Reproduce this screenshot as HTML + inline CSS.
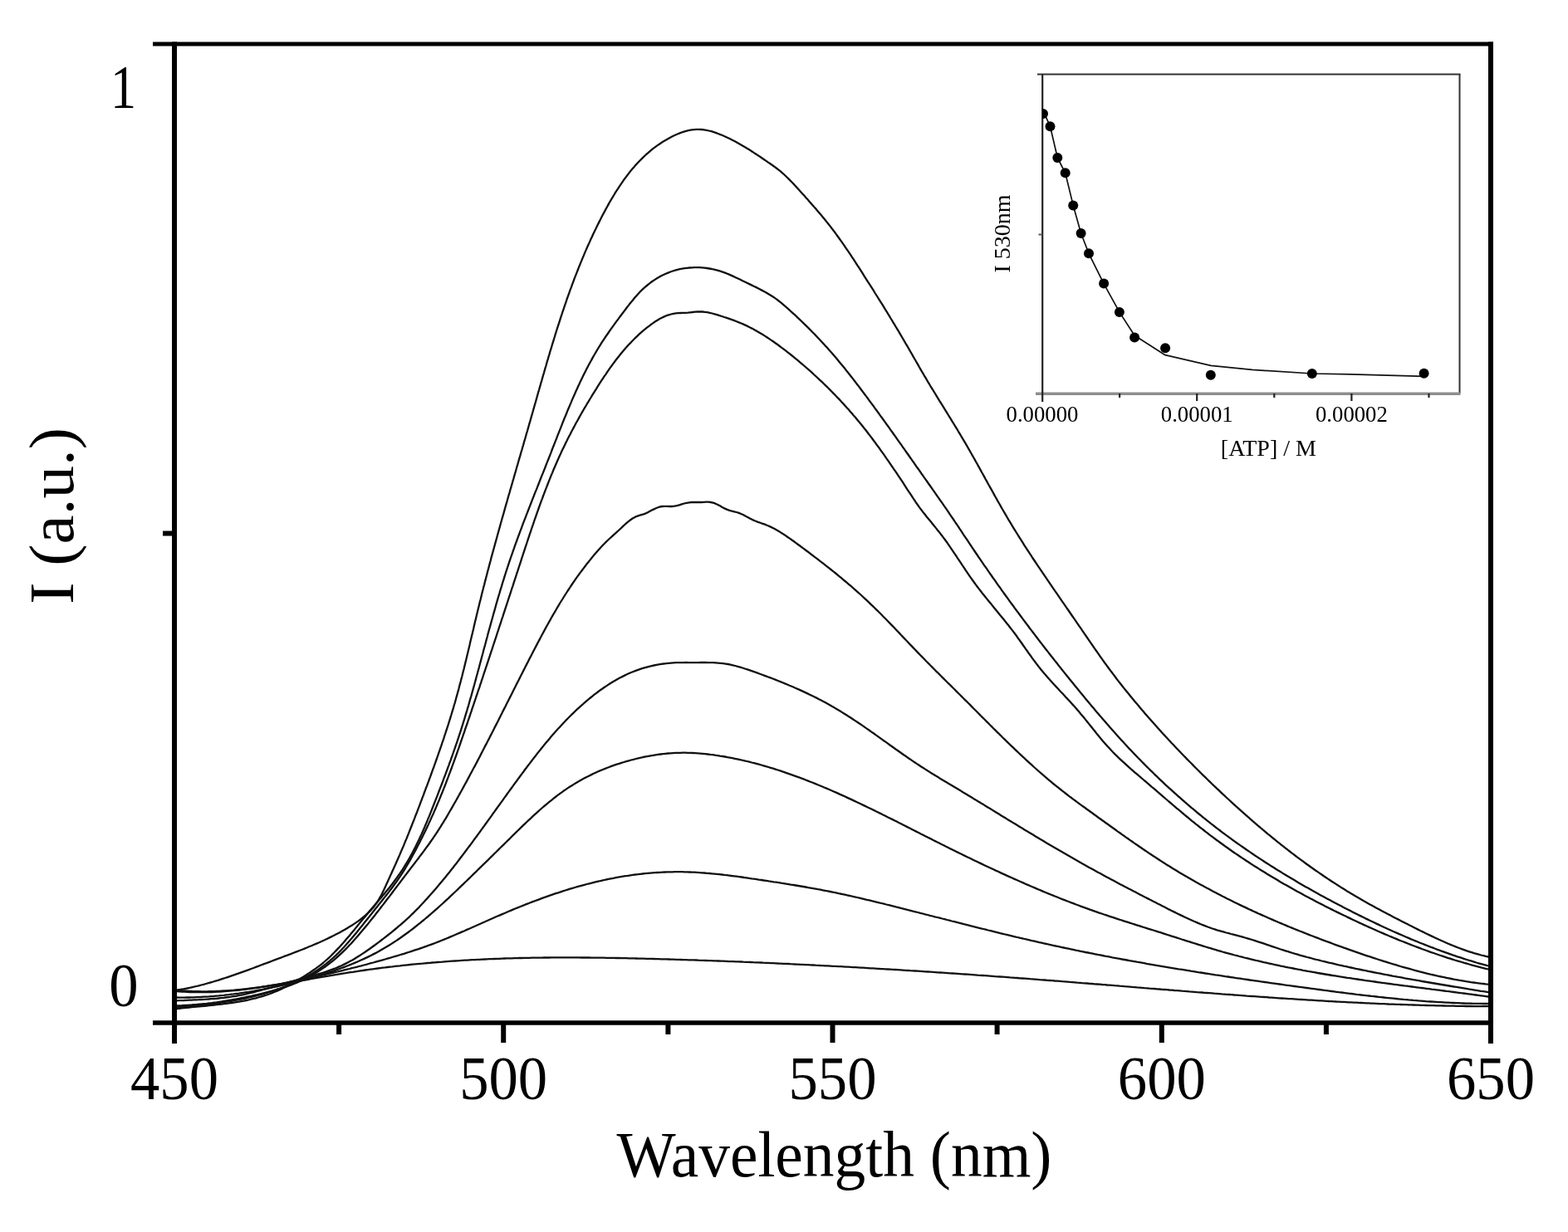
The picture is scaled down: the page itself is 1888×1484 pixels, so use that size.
<!DOCTYPE html>
<html><head><meta charset="utf-8"><title>Fluorescence spectra</title>
<style>
html,body{margin:0;padding:0;background:#fff;}
body{width:1888px;height:1484px;overflow:hidden;}
svg{display:block;}
text{font-family:"Liberation Serif","Times New Roman",serif;fill:#000;}
</style></head>
<body>
<svg width="1888" height="1484" viewBox="0 0 1888 1484">
<rect width="1888" height="1484" fill="#fff"/>
<g fill="none" stroke="#111" stroke-width="2.3" stroke-linejoin="round" stroke-linecap="round">
<path d="M210.0 1193.2L213.0 1192.7 215.9 1192.2 218.9 1191.7 221.8 1191.2 224.7 1190.6 227.7 1190.0 230.6 1189.3 233.5 1188.7 236.4 1188.0 239.3 1187.3 242.2 1186.5 245.1 1185.8 248.0 1185.0 250.9 1184.2 253.8 1183.3 256.7 1182.5 259.6 1181.6 262.5 1180.8 265.3 1179.9 268.2 1178.9 271.1 1178.0 273.9 1177.1 276.8 1176.1 279.6 1175.1 282.5 1174.2 285.3 1173.2 288.2 1172.2 291.0 1171.2 293.9 1170.1 296.7 1169.1 299.5 1168.1 302.3 1167.0 305.2 1166.0 308.0 1164.9 310.8 1163.9 313.6 1162.8 316.4 1161.7 319.3 1160.7 322.1 1159.6 324.9 1158.6 327.7 1157.5 330.5 1156.4 333.3 1155.4 336.1 1154.3 338.9 1153.3 341.7 1152.2 344.5 1151.2 347.3 1150.1 350.1 1149.1 352.8 1148.0 355.6 1146.9 358.4 1145.9 361.2 1144.8 364.0 1143.7 366.7 1142.6 369.5 1141.5 372.2 1140.3 375.0 1139.2 377.7 1138.0 380.5 1136.9 383.2 1135.7 386.0 1134.5 388.7 1133.2 391.4 1132.0 394.1 1130.7 396.8 1129.4 399.5 1128.1 402.2 1126.7 404.9 1125.3 407.6 1123.9 410.3 1122.5 412.9 1121.0 415.6 1119.5 418.2 1117.9 420.9 1116.3 423.5 1114.7 426.0 1113.1 428.6 1111.4 431.1 1109.6 433.5 1107.8 435.9 1106.0 438.2 1104.1 440.5 1102.2 442.7 1100.2 444.8 1098.1 446.8 1096.1 448.7 1093.9 450.6 1091.7 452.3 1089.3 454.0 1086.9 455.5 1084.5 457.0 1081.9 458.5 1079.3 459.9 1076.7 461.2 1074.0 462.5 1071.3 463.8 1068.6 465.0 1065.8 466.3 1063.1 467.5 1060.3 468.8 1057.5 470.0 1054.7 471.3 1052.0 472.5 1049.2 473.8 1046.4 475.0 1043.7 476.3 1040.9 477.5 1038.2 478.7 1035.4 480.0 1032.6 481.2 1029.9 482.3 1027.1 483.5 1024.4 484.7 1021.6 485.9 1018.9 487.0 1016.1 488.1 1013.3 489.3 1010.6 490.4 1007.8 491.5 1005.1 492.6 1002.3 493.7 999.5 494.8 996.8 495.9 994.0 497.0 991.2 498.1 988.5 499.2 985.7 500.2 982.9 501.3 980.2 502.4 977.4 503.4 974.6 504.5 971.8 505.6 969.0 506.6 966.2 507.7 963.4 508.7 960.6 509.8 957.8 510.8 955.0 511.9 952.2 512.9 949.4 514.0 946.6 515.0 943.8 516.1 941.0 517.1 938.2 518.2 935.3 519.2 932.5 520.2 929.7 521.2 926.8 522.3 924.0 523.3 921.2 524.3 918.3 525.3 915.5 526.3 912.6 527.3 909.8 528.3 906.9 529.3 904.1 530.3 901.2 531.3 898.4 532.2 895.5 533.2 892.6 534.2 889.8 535.1 886.9 536.1 884.0 537.0 881.2 537.9 878.3 538.9 875.4 539.8 872.6 540.7 869.7 541.6 866.8 542.5 863.9 543.4 861.0 544.2 858.2 545.1 855.3 546.0 852.4 546.8 849.5 547.7 846.6 548.5 843.7 549.3 840.8 550.1 837.9 550.9 835.0 551.7 832.1 552.5 829.2 553.2 826.3 554.0 823.4 554.8 820.5 555.5 817.6 556.3 814.7 557.0 811.8 557.7 808.9 558.5 806.0 559.2 803.1 559.9 800.2 560.6 797.3 561.3 794.4 562.0 791.5 562.7 788.6 563.4 785.7 564.1 782.8 564.8 779.8 565.5 776.9 566.1 774.0 566.8 771.1 567.5 768.2 568.2 765.3 568.9 762.4 569.6 759.5 570.3 756.6 570.9 753.7 571.6 750.7 572.3 747.8 573.0 744.9 573.7 742.0 574.4 739.1 575.1 736.2 575.8 733.3 576.5 730.4 577.2 727.5 577.9 724.6 578.7 721.7 579.4 718.8 580.1 715.8 580.8 712.9 581.6 710.0 582.3 707.1 583.1 704.2 583.8 701.3 584.6 698.4 585.3 695.5 586.1 692.6 586.8 689.7 587.6 686.8 588.4 683.9 589.1 681.0 589.9 678.1 590.7 675.2 591.4 672.3 592.2 669.4 593.0 666.5 593.8 663.6 594.6 660.7 595.4 657.8 596.2 654.9 597.0 652.0 597.8 649.1 598.6 646.2 599.4 643.3 600.2 640.4 601.0 637.5 601.8 634.6 602.6 631.7 603.4 628.8 604.2 626.0 605.0 623.1 605.9 620.2 606.7 617.3 607.5 614.4 608.3 611.5 609.1 608.6 610.0 605.7 610.8 602.8 611.6 599.9 612.4 597.0 613.3 594.1 614.1 591.2 614.9 588.3 615.8 585.4 616.6 582.6 617.4 579.7 618.3 576.8 619.1 573.9 619.9 571.0 620.8 568.1 621.6 565.2 622.4 562.3 623.3 559.4 624.1 556.5 624.9 553.6 625.8 550.7 626.6 547.9 627.4 545.0 628.3 542.1 629.1 539.2 630.0 536.3 630.8 533.4 631.6 530.5 632.5 527.6 633.3 524.7 634.1 521.8 635.0 519.0 635.8 516.1 636.6 513.2 637.4 510.3 638.3 507.4 639.1 504.5 639.9 501.6 640.8 498.7 641.6 495.8 642.4 492.9 643.2 490.1 644.0 487.2 644.9 484.3 645.7 481.4 646.5 478.5 647.3 475.6 648.1 472.7 649.0 469.8 649.8 466.9 650.6 464.1 651.4 461.2 652.3 458.3 653.1 455.4 653.9 452.5 654.8 449.6 655.6 446.8 656.4 443.9 657.3 441.0 658.1 438.1 658.9 435.2 659.8 432.4 660.6 429.5 661.5 426.6 662.3 423.7 663.2 420.9 664.1 418.0 664.9 415.1 665.8 412.3 666.7 409.4 667.6 406.5 668.4 403.7 669.3 400.8 670.2 398.0 671.1 395.1 672.0 392.3 673.0 389.4 673.9 386.6 674.8 383.7 675.7 380.9 676.7 378.0 677.6 375.2 678.6 372.3 679.5 369.5 680.5 366.7 681.5 363.8 682.4 361.0 683.4 358.2 684.4 355.4 685.4 352.6 686.4 349.7 687.5 346.9 688.5 344.1 689.5 341.3 690.6 338.5 691.6 335.7 692.7 332.9 693.8 330.1 694.9 327.3 696.0 324.5 697.1 321.7 698.2 319.0 699.3 316.2 700.5 313.4 701.6 310.6 702.8 307.9 703.9 305.1 705.1 302.4 706.3 299.6 707.5 296.8 708.8 294.1 710.0 291.4 711.2 288.6 712.5 285.9 713.8 283.1 715.0 280.4 716.3 277.7 717.7 275.0 719.0 272.3 720.3 269.6 721.7 266.9 723.0 264.2 724.4 261.5 725.8 258.8 727.2 256.1 728.7 253.4 730.1 250.7 731.6 248.1 733.0 245.4 734.5 242.8 736.1 240.2 737.6 237.6 739.2 235.0 740.7 232.4 742.3 229.8 744.0 227.3 745.6 224.8 747.3 222.3 749.0 219.8 750.7 217.3 752.5 214.9 754.3 212.5 756.1 210.1 757.9 207.8 759.8 205.4 761.7 203.1 763.6 200.9 765.6 198.6 767.6 196.5 769.7 194.3 771.7 192.2 773.8 190.1 776.0 188.0 778.1 186.0 780.4 184.1 782.6 182.1 784.9 180.2 787.2 178.4 789.6 176.6 792.0 174.9 794.5 173.2 797.0 171.5 799.5 169.9 802.1 168.4 804.7 166.9 807.4 165.4 810.1 164.0 812.9 162.7 815.7 161.5 818.5 160.4 821.3 159.3 824.2 158.4 827.1 157.6 830.0 156.9 833.0 156.4 835.9 156.1 838.9 155.9 841.8 155.8 844.8 156.0 847.7 156.3 850.7 156.8 853.6 157.5 856.6 158.2 859.5 159.1 862.4 160.1 865.2 161.2 868.1 162.3 870.9 163.5 873.6 164.7 876.4 166.0 879.1 167.3 881.8 168.7 884.5 170.1 887.1 171.5 889.7 172.9 892.3 174.4 894.9 175.9 897.5 177.5 900.0 179.0 902.6 180.6 905.1 182.2 907.6 183.9 910.1 185.5 912.6 187.1 915.1 188.8 917.6 190.5 920.1 192.2 922.6 193.9 925.0 195.6 927.5 197.3 930.0 199.0 932.4 200.7 934.8 202.5 937.2 204.3 939.5 206.2 941.7 208.1 943.9 210.0 946.0 212.0 948.1 214.0 950.2 216.1 952.3 218.2 954.3 220.3 956.3 222.4 958.3 224.6 960.3 226.7 962.3 228.9 964.3 231.2 966.3 233.4 968.3 235.6 970.3 237.9 972.3 240.1 974.3 242.4 976.3 244.7 978.3 247.0 980.3 249.3 982.4 251.6 984.3 253.9 986.3 256.3 988.3 258.6 990.3 261.0 992.2 263.3 994.2 265.7 996.1 268.1 998.0 270.5 999.9 272.9 1001.7 275.3 1003.6 277.7 1005.4 280.1 1007.2 282.6 1008.9 285.0 1010.7 287.5 1012.4 289.9 1014.2 292.4 1015.9 294.8 1017.6 297.3 1019.3 299.8 1020.9 302.2 1022.6 304.7 1024.3 307.2 1025.9 309.7 1027.6 312.2 1029.2 314.7 1030.8 317.2 1032.4 319.7 1034.1 322.2 1035.7 324.7 1037.3 327.2 1038.9 329.7 1040.5 332.3 1042.1 334.8 1043.7 337.3 1045.3 339.8 1047.0 342.3 1048.6 344.9 1050.2 347.4 1051.8 349.9 1053.3 352.5 1054.9 355.0 1056.5 357.5 1058.1 360.1 1059.7 362.6 1061.3 365.1 1062.9 367.7 1064.4 370.2 1066.0 372.8 1067.6 375.3 1069.1 377.9 1070.7 380.4 1072.2 383.0 1073.8 385.5 1075.3 388.1 1076.9 390.6 1078.4 393.2 1079.9 395.7 1081.5 398.3 1083.0 400.9 1084.5 403.4 1086.0 406.0 1087.5 408.5 1089.0 411.1 1090.5 413.7 1092.0 416.2 1093.5 418.8 1095.0 421.4 1096.5 424.0 1098.0 426.5 1099.4 429.1 1100.9 431.7 1102.4 434.3 1103.9 436.8 1105.4 439.4 1106.8 442.0 1108.3 444.6 1109.8 447.2 1111.3 449.7 1112.8 452.3 1114.4 454.9 1115.9 457.5 1117.4 460.1 1119.0 462.7 1120.5 465.3 1122.1 467.9 1123.7 470.4 1125.3 473.0 1126.9 475.6 1128.4 478.2 1130.0 480.8 1131.6 483.4 1133.3 486.0 1134.9 488.6 1136.5 491.2 1138.1 493.8 1139.7 496.4 1141.3 499.0 1142.9 501.6 1144.5 504.2 1146.1 506.8 1147.7 509.4 1149.3 512.0 1150.9 514.6 1152.5 517.2 1154.0 519.8 1155.6 522.4 1157.1 525.0 1158.7 527.6 1160.2 530.2 1161.8 532.8 1163.3 535.4 1164.8 538.0 1166.3 540.6 1167.8 543.2 1169.2 545.8 1170.7 548.4 1172.2 551.0 1173.7 553.6 1175.1 556.2 1176.6 558.8 1178.0 561.4 1179.5 564.0 1180.9 566.6 1182.3 569.2 1183.8 571.8 1185.2 574.4 1186.6 577.0 1188.1 579.6 1189.5 582.2 1190.9 584.8 1192.4 587.4 1193.8 589.9 1195.3 592.5 1196.7 595.1 1198.1 597.7 1199.6 600.3 1201.0 602.9 1202.5 605.5 1204.0 608.0 1205.4 610.6 1206.9 613.2 1208.4 615.8 1209.9 618.4 1211.4 620.9 1212.9 623.5 1214.4 626.1 1216.0 628.6 1217.5 631.2 1219.1 633.8 1220.6 636.3 1222.2 638.9 1223.8 641.5 1225.4 644.0 1227.0 646.6 1228.6 649.1 1230.2 651.7 1231.8 654.2 1233.4 656.8 1235.1 659.3 1236.7 661.8 1238.4 664.4 1240.0 666.9 1241.7 669.4 1243.3 672.0 1245.0 674.5 1246.7 677.0 1248.4 679.6 1250.1 682.1 1251.8 684.6 1253.5 687.1 1255.2 689.6 1256.9 692.2 1258.6 694.7 1260.3 697.2 1262.0 699.7 1263.7 702.2 1265.4 704.7 1267.1 707.2 1268.8 709.7 1270.5 712.2 1272.3 714.7 1274.0 717.2 1275.7 719.7 1277.4 722.1 1279.1 724.6 1280.9 727.1 1282.6 729.6 1284.3 732.1 1286.0 734.5 1287.7 737.0 1289.4 739.5 1291.1 742.0 1292.8 744.4 1294.5 746.9 1296.2 749.3 1297.9 751.8 1299.6 754.3 1301.3 756.7 1302.9 759.2 1304.6 761.6 1306.3 764.1 1308.0 766.5 1309.6 768.9 1311.3 771.4 1313.0 773.8 1314.6 776.2 1316.3 778.7 1318.0 781.1 1319.7 783.5 1321.4 785.9 1323.1 788.4 1324.8 790.8 1326.5 793.2 1328.2 795.6 1329.9 798.0 1331.7 800.4 1333.4 802.8 1335.2 805.2 1337.0 807.6 1338.8 810.0 1340.6 812.4 1342.4 814.8 1344.2 817.2 1346.0 819.6 1347.9 822.0 1349.7 824.3 1351.6 826.7 1353.5 829.1 1355.4 831.4 1357.3 833.8 1359.2 836.1 1361.1 838.5 1363.0 840.8 1365.0 843.2 1366.9 845.5 1368.9 847.8 1370.8 850.1 1372.8 852.5 1374.7 854.8 1376.7 857.1 1378.7 859.4 1380.7 861.7 1382.7 863.9 1384.7 866.2 1386.7 868.5 1388.7 870.7 1390.7 873.0 1392.7 875.3 1394.7 877.5 1396.7 879.7 1398.7 882.0 1400.7 884.2 1402.8 886.4 1404.8 888.6 1406.8 890.8 1408.9 893.0 1410.9 895.2 1413.0 897.3 1415.0 899.5 1417.1 901.7 1419.1 903.8 1421.2 906.0 1423.3 908.2 1425.3 910.3 1427.4 912.4 1429.5 914.6 1431.6 916.7 1433.7 918.8 1435.8 920.9 1437.9 923.1 1440.0 925.2 1442.1 927.3 1444.2 929.4 1446.3 931.5 1448.4 933.6 1450.6 935.7 1452.7 937.7 1454.8 939.8 1457.0 941.9 1459.1 944.0 1461.3 946.1 1463.5 948.1 1465.6 950.2 1467.8 952.2 1470.0 954.3 1472.2 956.4 1474.4 958.4 1476.6 960.5 1478.8 962.5 1481.0 964.5 1483.2 966.6 1485.4 968.6 1487.6 970.6 1489.9 972.7 1492.1 974.7 1494.3 976.7 1496.6 978.7 1498.8 980.7 1501.1 982.7 1503.4 984.7 1505.6 986.7 1507.9 988.6 1510.2 990.6 1512.5 992.6 1514.8 994.6 1517.1 996.5 1519.4 998.5 1521.7 1000.4 1524.0 1002.3 1526.3 1004.3 1528.7 1006.2 1531.0 1008.1 1533.3 1010.0 1535.7 1011.9 1538.0 1013.8 1540.4 1015.7 1542.7 1017.6 1545.1 1019.4 1547.5 1021.3 1549.9 1023.2 1552.2 1025.0 1554.6 1026.9 1557.0 1028.7 1559.4 1030.5 1561.8 1032.3 1564.2 1034.1 1566.7 1035.9 1569.1 1037.7 1571.5 1039.5 1573.9 1041.2 1576.4 1043.0 1578.8 1044.7 1581.3 1046.5 1583.7 1048.2 1586.2 1049.9 1588.7 1051.6 1591.1 1053.3 1593.6 1055.0 1596.1 1056.7 1598.6 1058.4 1601.1 1060.0 1603.6 1061.7 1606.1 1063.3 1608.6 1064.9 1611.1 1066.5 1613.6 1068.1 1616.2 1069.7 1618.7 1071.3 1621.2 1072.9 1623.8 1074.4 1626.3 1076.0 1628.9 1077.5 1631.4 1079.0 1634.0 1080.5 1636.6 1082.0 1639.1 1083.5 1641.7 1085.0 1644.3 1086.4 1646.9 1087.9 1649.5 1089.4 1652.1 1090.8 1654.7 1092.2 1657.3 1093.7 1659.9 1095.1 1662.6 1096.5 1665.2 1097.9 1667.8 1099.3 1670.5 1100.7 1673.1 1102.1 1675.8 1103.5 1678.4 1104.9 1681.1 1106.3 1683.8 1107.6 1686.4 1109.0 1689.1 1110.4 1691.8 1111.7 1694.5 1113.1 1697.2 1114.5 1699.9 1115.8 1702.6 1117.2 1705.3 1118.6 1708.0 1119.9 1710.7 1121.3 1713.5 1122.6 1716.2 1124.0 1718.9 1125.3 1721.7 1126.6 1724.4 1127.9 1727.2 1129.2 1730.0 1130.5 1732.7 1131.8 1735.5 1133.0 1738.3 1134.3 1741.0 1135.5 1743.8 1136.7 1746.6 1137.9 1749.4 1139.0 1752.2 1140.1 1755.0 1141.2 1757.8 1142.3 1760.7 1143.4 1763.5 1144.4 1766.3 1145.4 1769.1 1146.3 1772.0 1147.2 1774.8 1148.1 1777.7 1148.9 1780.5 1149.7 1783.4 1150.5 1786.3 1151.2 1789.1 1151.9 1792.0 1152.5"/>
<path d="M210.0 1215.5L212.9 1215.1 215.9 1214.8 218.9 1214.4 221.8 1214.1 224.8 1213.8 227.8 1213.5 230.8 1213.2 233.8 1212.9 236.7 1212.6 239.7 1212.3 242.7 1212.0 245.7 1211.8 248.7 1211.5 251.7 1211.2 254.7 1210.9 257.7 1210.6 260.7 1210.2 263.7 1209.9 266.7 1209.6 269.7 1209.2 272.7 1208.8 275.7 1208.4 278.7 1208.0 281.6 1207.6 284.6 1207.1 287.6 1206.6 290.5 1206.1 293.5 1205.6 296.4 1205.0 299.3 1204.4 302.2 1203.7 305.2 1203.0 308.1 1202.3 310.9 1201.5 313.8 1200.7 316.7 1199.8 319.5 1198.9 322.4 1198.0 325.2 1197.0 328.0 1195.9 330.8 1194.8 333.6 1193.6 336.3 1192.4 339.1 1191.1 341.8 1189.8 344.5 1188.5 347.2 1187.0 349.9 1185.6 352.5 1184.1 355.1 1182.6 357.7 1181.1 360.3 1179.6 362.9 1178.0 365.4 1176.5 367.9 1174.9 370.4 1173.3 372.9 1171.7 375.3 1170.0 377.8 1168.3 380.2 1166.6 382.5 1164.9 384.9 1163.1 387.2 1161.3 389.4 1159.5 391.7 1157.5 393.9 1155.6 396.1 1153.6 398.3 1151.5 400.4 1149.4 402.5 1147.3 404.6 1145.1 406.7 1142.9 408.8 1140.7 410.8 1138.5 412.8 1136.2 414.8 1133.9 416.8 1131.6 418.8 1129.3 420.8 1127.0 422.7 1124.6 424.7 1122.3 426.6 1120.0 428.5 1117.6 430.4 1115.3 432.3 1112.9 434.2 1110.6 436.1 1108.3 438.0 1106.0 439.9 1103.7 441.8 1101.4 443.7 1099.1 445.6 1096.8 447.5 1094.5 449.4 1092.2 451.4 1090.0 453.3 1087.7 455.2 1085.4 457.1 1083.2 459.1 1080.9 461.0 1078.6 462.9 1076.4 464.8 1074.1 466.7 1071.7 468.6 1069.4 470.5 1067.0 472.3 1064.7 474.2 1062.2 476.0 1059.8 477.8 1057.3 479.5 1054.9 481.3 1052.4 483.0 1049.8 484.7 1047.3 486.3 1044.8 487.9 1042.2 489.5 1039.6 491.0 1037.1 492.5 1034.5 494.0 1031.9 495.4 1029.3 496.9 1026.6 498.2 1024.0 499.6 1021.4 500.9 1018.7 502.2 1016.1 503.5 1013.4 504.8 1010.7 506.0 1008.1 507.3 1005.4 508.5 1002.7 509.7 1000.0 510.9 997.3 512.0 994.5 513.2 991.8 514.3 989.1 515.4 986.3 516.6 983.6 517.7 980.8 518.8 978.1 519.9 975.3 521.0 972.5 522.1 969.8 523.2 967.0 524.3 964.2 525.4 961.4 526.5 958.6 527.5 955.8 528.6 953.0 529.7 950.2 530.8 947.3 531.9 944.5 533.0 941.7 534.0 938.9 535.1 936.0 536.2 933.2 537.2 930.3 538.3 927.5 539.3 924.7 540.4 921.8 541.4 918.9 542.5 916.1 543.5 913.2 544.5 910.4 545.5 907.5 546.5 904.6 547.5 901.8 548.5 898.9 549.5 896.0 550.5 893.2 551.4 890.3 552.4 887.4 553.3 884.6 554.3 881.7 555.2 878.8 556.1 875.9 557.0 873.1 557.9 870.2 558.8 867.3 559.7 864.4 560.5 861.6 561.4 858.7 562.3 855.8 563.1 852.9 564.0 850.1 564.8 847.2 565.6 844.3 566.4 841.4 567.3 838.6 568.1 835.7 568.9 832.8 569.7 829.9 570.5 827.1 571.3 824.2 572.1 821.3 572.9 818.4 573.6 815.5 574.4 812.7 575.2 809.8 576.0 806.9 576.8 804.0 577.5 801.2 578.3 798.3 579.1 795.4 579.8 792.5 580.6 789.7 581.4 786.8 582.1 783.9 582.9 781.0 583.7 778.2 584.5 775.3 585.2 772.4 586.0 769.5 586.8 766.7 587.5 763.8 588.3 760.9 589.1 758.0 589.9 755.2 590.7 752.3 591.5 749.4 592.3 746.5 593.1 743.7 593.9 740.8 594.7 737.9 595.5 735.1 596.3 732.2 597.1 729.3 597.9 726.4 598.7 723.6 599.6 720.7 600.4 717.8 601.3 715.0 602.1 712.1 603.0 709.2 603.9 706.4 604.7 703.5 605.6 700.6 606.5 697.8 607.4 694.9 608.3 692.0 609.2 689.2 610.1 686.3 611.1 683.4 612.0 680.6 613.0 677.7 613.9 674.9 614.9 672.0 615.9 669.1 616.9 666.3 617.9 663.4 618.9 660.6 619.9 657.7 620.9 654.9 622.0 652.0 623.0 649.2 624.0 646.3 625.1 643.5 626.1 640.6 627.2 637.8 628.3 634.9 629.3 632.1 630.4 629.2 631.5 626.4 632.6 623.6 633.7 620.7 634.8 617.9 635.9 615.0 637.0 612.2 638.1 609.4 639.2 606.5 640.3 603.7 641.4 600.9 642.5 598.1 643.6 595.2 644.7 592.4 645.9 589.6 647.0 586.8 648.1 584.0 649.2 581.2 650.3 578.3 651.4 575.5 652.5 572.7 653.7 569.9 654.8 567.1 655.9 564.3 657.0 561.5 658.1 558.7 659.2 555.9 660.3 553.2 661.4 550.4 662.5 547.6 663.6 544.8 664.6 542.0 665.7 539.2 666.8 536.5 667.9 533.7 669.0 530.9 670.1 528.2 671.1 525.4 672.2 522.6 673.3 519.9 674.4 517.1 675.5 514.4 676.6 511.6 677.6 508.9 678.7 506.2 679.8 503.4 681.0 500.7 682.1 498.0 683.2 495.2 684.3 492.5 685.5 489.8 686.6 487.1 687.8 484.4 688.9 481.6 690.1 478.9 691.3 476.2 692.5 473.5 693.7 470.8 694.9 468.2 696.1 465.5 697.4 462.8 698.6 460.1 699.9 457.4 701.2 454.8 702.5 452.1 703.8 449.4 705.2 446.8 706.5 444.1 707.9 441.5 709.3 438.8 710.7 436.2 712.2 433.6 713.6 430.9 715.1 428.3 716.6 425.7 718.1 423.1 719.7 420.5 721.3 417.9 722.9 415.3 724.5 412.7 726.2 410.2 727.9 407.6 729.6 405.0 731.4 402.5 733.1 400.0 734.9 397.4 736.7 394.9 738.5 392.4 740.3 389.9 742.1 387.4 744.0 384.9 745.8 382.4 747.6 380.0 749.5 377.5 751.3 375.1 753.1 372.7 754.9 370.3 756.8 367.9 758.6 365.5 760.5 363.2 762.4 360.9 764.3 358.6 766.2 356.4 768.2 354.2 770.2 352.0 772.3 349.9 774.4 347.9 776.6 345.9 778.9 344.0 781.2 342.1 783.5 340.3 786.0 338.5 788.5 336.9 791.0 335.3 793.6 333.8 796.2 332.3 798.9 331.0 801.6 329.7 804.4 328.6 807.1 327.5 810.0 326.5 812.8 325.7 815.7 324.9 818.5 324.2 821.4 323.6 824.4 323.2 827.3 322.8 830.2 322.5 833.2 322.3 836.2 322.2 839.1 322.1 842.1 322.2 845.1 322.4 848.1 322.7 851.0 323.0 854.0 323.5 857.0 324.0 859.9 324.7 862.9 325.4 865.8 326.2 868.7 327.1 871.6 328.1 874.5 329.2 877.4 330.4 880.2 331.6 883.0 332.9 885.8 334.2 888.6 335.5 891.4 336.8 894.1 338.2 896.8 339.5 899.5 340.8 902.2 342.1 904.9 343.4 907.5 344.7 910.1 345.9 912.7 347.2 915.3 348.6 917.9 349.9 920.4 351.3 923.0 352.7 925.5 354.2 928.0 355.7 930.4 357.3 932.9 358.9 935.3 360.6 937.7 362.5 940.1 364.4 942.5 366.3 944.8 368.3 947.1 370.4 949.4 372.4 951.7 374.5 954.0 376.6 956.3 378.7 958.5 380.7 960.7 382.8 962.9 384.9 965.1 387.0 967.3 389.1 969.4 391.2 971.6 393.3 973.7 395.4 975.8 397.5 977.9 399.7 980.0 401.8 982.1 403.9 984.1 406.1 986.2 408.2 988.2 410.4 990.2 412.6 992.2 414.7 994.2 416.9 996.2 419.1 998.2 421.4 1000.1 423.6 1002.1 425.8 1004.0 428.1 1006.0 430.3 1007.9 432.6 1009.8 434.9 1011.7 437.2 1013.6 439.5 1015.5 441.8 1017.4 444.1 1019.2 446.5 1021.1 448.8 1023.0 451.2 1024.8 453.5 1026.7 455.9 1028.5 458.2 1030.3 460.6 1032.1 463.0 1034.0 465.4 1035.8 467.8 1037.6 470.2 1039.4 472.6 1041.2 475.0 1043.0 477.4 1044.8 479.8 1046.5 482.2 1048.3 484.6 1050.1 487.0 1051.9 489.4 1053.6 491.9 1055.4 494.3 1057.2 496.7 1058.9 499.1 1060.7 501.6 1062.5 504.0 1064.2 506.4 1066.0 508.9 1067.7 511.3 1069.5 513.7 1071.2 516.2 1072.9 518.6 1074.7 521.0 1076.4 523.5 1078.2 525.9 1079.9 528.4 1081.6 530.8 1083.4 533.3 1085.1 535.7 1086.8 538.2 1088.6 540.6 1090.3 543.1 1092.0 545.5 1093.8 548.0 1095.5 550.5 1097.2 552.9 1098.9 555.4 1100.7 557.8 1102.4 560.3 1104.1 562.8 1105.9 565.2 1107.6 567.7 1109.3 570.2 1111.1 572.6 1112.8 575.1 1114.6 577.6 1116.3 580.0 1118.0 582.5 1119.8 585.0 1121.5 587.4 1123.2 589.9 1125.0 592.4 1126.7 594.9 1128.4 597.3 1130.2 599.8 1131.9 602.3 1133.6 604.7 1135.3 607.2 1137.0 609.7 1138.8 612.2 1140.5 614.6 1142.2 617.1 1143.8 619.6 1145.5 622.1 1147.2 624.5 1148.9 627.0 1150.5 629.5 1152.2 631.9 1153.9 634.4 1155.5 636.9 1157.2 639.4 1158.8 641.8 1160.4 644.3 1162.1 646.8 1163.7 649.2 1165.4 651.7 1167.0 654.2 1168.7 656.6 1170.3 659.1 1172.0 661.6 1173.6 664.0 1175.3 666.5 1177.0 669.0 1178.6 671.4 1180.3 673.9 1182.0 676.3 1183.7 678.8 1185.4 681.3 1187.1 683.7 1188.8 686.2 1190.5 688.6 1192.2 691.1 1193.9 693.5 1195.6 696.0 1197.4 698.4 1199.1 700.9 1200.8 703.3 1202.6 705.8 1204.3 708.2 1206.0 710.7 1207.8 713.1 1209.5 715.5 1211.3 718.0 1213.1 720.4 1214.8 722.8 1216.6 725.3 1218.4 727.7 1220.2 730.1 1221.9 732.6 1223.7 735.0 1225.5 737.4 1227.3 739.8 1229.1 742.2 1230.9 744.7 1232.7 747.1 1234.5 749.5 1236.3 751.9 1238.1 754.3 1239.9 756.7 1241.8 759.1 1243.6 761.5 1245.4 763.9 1247.2 766.3 1249.1 768.7 1250.9 771.1 1252.7 773.5 1254.6 775.9 1256.4 778.3 1258.3 780.7 1260.1 783.0 1262.0 785.4 1263.8 787.8 1265.7 790.2 1267.6 792.5 1269.4 794.9 1271.3 797.3 1273.2 799.6 1275.0 802.0 1276.9 804.4 1278.8 806.7 1280.7 809.1 1282.5 811.4 1284.4 813.8 1286.3 816.1 1288.2 818.4 1290.1 820.8 1292.0 823.1 1293.9 825.4 1295.8 827.8 1297.7 830.1 1299.6 832.4 1301.5 834.7 1303.4 837.0 1305.3 839.4 1307.2 841.7 1309.1 844.0 1311.0 846.3 1312.9 848.6 1314.9 850.9 1316.8 853.1 1318.7 855.4 1320.6 857.7 1322.6 860.0 1324.5 862.3 1326.5 864.5 1328.4 866.8 1330.4 869.0 1332.3 871.3 1334.3 873.6 1336.2 875.8 1338.2 878.0 1340.2 880.3 1342.2 882.5 1344.2 884.7 1346.2 887.0 1348.2 889.2 1350.2 891.4 1352.2 893.6 1354.2 895.8 1356.3 898.0 1358.3 900.2 1360.3 902.4 1362.4 904.5 1364.5 906.7 1366.5 908.9 1368.6 911.0 1370.7 913.2 1372.8 915.3 1374.9 917.5 1377.0 919.6 1379.1 921.8 1381.2 923.9 1383.4 926.0 1385.5 928.1 1387.7 930.2 1389.8 932.3 1392.0 934.4 1394.2 936.5 1396.3 938.6 1398.5 940.6 1400.7 942.7 1402.9 944.8 1405.1 946.8 1407.3 948.9 1409.6 950.9 1411.8 952.9 1414.0 954.9 1416.3 956.9 1418.5 959.0 1420.8 960.9 1423.0 962.9 1425.3 964.9 1427.6 966.9 1429.9 968.9 1432.2 970.8 1434.5 972.8 1436.8 974.7 1439.1 976.6 1441.4 978.6 1443.7 980.5 1446.1 982.4 1448.4 984.3 1450.7 986.2 1453.1 988.1 1455.4 989.9 1457.8 991.8 1460.2 993.6 1462.5 995.5 1464.9 997.3 1467.3 999.1 1469.7 1001.0 1472.1 1002.8 1474.5 1004.6 1476.9 1006.4 1479.3 1008.1 1481.7 1009.9 1484.1 1011.7 1486.5 1013.4 1489.0 1015.2 1491.4 1016.9 1493.9 1018.6 1496.3 1020.3 1498.8 1022.0 1501.2 1023.7 1503.7 1025.4 1506.2 1027.1 1508.6 1028.8 1511.1 1030.5 1513.6 1032.1 1516.1 1033.8 1518.6 1035.4 1521.1 1037.0 1523.6 1038.7 1526.1 1040.3 1528.6 1041.9 1531.1 1043.5 1533.7 1045.1 1536.2 1046.7 1538.7 1048.3 1541.3 1049.8 1543.8 1051.4 1546.4 1053.0 1548.9 1054.5 1551.5 1056.1 1554.0 1057.6 1556.6 1059.1 1559.2 1060.6 1561.8 1062.2 1564.3 1063.7 1566.9 1065.2 1569.5 1066.7 1572.1 1068.2 1574.7 1069.6 1577.3 1071.1 1579.9 1072.6 1582.5 1074.0 1585.2 1075.5 1587.8 1077.0 1590.4 1078.4 1593.0 1079.8 1595.7 1081.3 1598.3 1082.7 1601.0 1084.1 1603.6 1085.5 1606.3 1086.9 1608.9 1088.3 1611.6 1089.7 1614.3 1091.1 1616.9 1092.5 1619.6 1093.9 1622.3 1095.3 1625.0 1096.6 1627.6 1098.0 1630.3 1099.4 1633.0 1100.7 1635.7 1102.1 1638.4 1103.4 1641.1 1104.7 1643.8 1106.1 1646.5 1107.4 1649.3 1108.7 1652.0 1110.0 1654.7 1111.3 1657.4 1112.6 1660.2 1113.9 1662.9 1115.2 1665.6 1116.5 1668.4 1117.7 1671.1 1119.0 1673.9 1120.2 1676.6 1121.5 1679.4 1122.7 1682.1 1123.9 1684.9 1125.1 1687.6 1126.3 1690.4 1127.5 1693.2 1128.7 1696.0 1129.9 1698.7 1131.1 1701.5 1132.2 1704.3 1133.4 1707.1 1134.5 1709.9 1135.7 1712.7 1136.8 1715.5 1137.9 1718.3 1139.0 1721.1 1140.1 1723.9 1141.2 1726.7 1142.2 1729.5 1143.3 1732.3 1144.3 1735.1 1145.4 1737.9 1146.4 1740.8 1147.4 1743.6 1148.4 1746.4 1149.4 1749.2 1150.4 1752.1 1151.3 1754.9 1152.3 1757.7 1153.2 1760.6 1154.2 1763.4 1155.1 1766.3 1156.0 1769.1 1156.9 1772.0 1157.7 1774.8 1158.6 1777.7 1159.5 1780.5 1160.3 1783.4 1161.1 1786.3 1161.9 1789.1 1162.7 1792.0 1163.5"/>
<path d="M210.0 1213.5L213.0 1213.3 216.0 1213.0 219.0 1212.8 222.0 1212.6 225.0 1212.3 228.0 1212.1 231.0 1211.8 234.0 1211.5 237.0 1211.2 240.0 1210.9 243.0 1210.6 246.0 1210.3 249.0 1210.0 251.9 1209.6 254.9 1209.2 257.9 1208.9 260.8 1208.5 263.8 1208.1 266.8 1207.6 269.7 1207.2 272.7 1206.7 275.6 1206.3 278.6 1205.8 281.5 1205.3 284.5 1204.7 287.4 1204.2 290.3 1203.6 293.3 1203.0 296.2 1202.4 299.1 1201.7 302.0 1201.0 304.9 1200.4 307.8 1199.6 310.7 1198.9 313.6 1198.1 316.5 1197.3 319.4 1196.5 322.2 1195.6 325.1 1194.7 328.0 1193.8 330.8 1192.9 333.7 1191.9 336.5 1190.9 339.3 1189.9 342.2 1188.8 345.0 1187.7 347.8 1186.6 350.6 1185.4 353.3 1184.2 356.1 1182.9 358.8 1181.6 361.5 1180.3 364.2 1179.0 366.9 1177.6 369.6 1176.1 372.2 1174.7 374.8 1173.2 377.3 1171.6 379.9 1170.0 382.4 1168.4 384.9 1166.7 387.3 1165.0 389.7 1163.2 392.1 1161.4 394.5 1159.5 396.8 1157.6 399.0 1155.7 401.3 1153.7 403.5 1151.7 405.6 1149.6 407.8 1147.5 409.9 1145.4 411.9 1143.2 414.0 1141.0 416.0 1138.8 418.0 1136.6 420.0 1134.3 421.9 1132.0 423.9 1129.8 425.8 1127.5 427.7 1125.2 429.6 1122.9 431.5 1120.6 433.3 1118.3 435.2 1116.0 437.1 1113.6 438.9 1111.3 440.7 1109.0 442.6 1106.7 444.4 1104.4 446.3 1102.1 448.1 1099.8 449.9 1097.4 451.8 1095.1 453.7 1092.7 455.5 1090.4 457.4 1088.0 459.3 1085.7 461.2 1083.3 463.1 1080.9 465.0 1078.5 466.9 1076.1 468.8 1073.6 470.6 1071.2 472.5 1068.7 474.3 1066.3 476.1 1063.8 477.9 1061.3 479.6 1058.9 481.3 1056.4 483.0 1053.9 484.6 1051.3 486.2 1048.8 487.8 1046.3 489.3 1043.7 490.8 1041.2 492.3 1038.6 493.8 1036.1 495.2 1033.5 496.6 1030.9 498.1 1028.3 499.5 1025.7 500.9 1023.1 502.2 1020.4 503.6 1017.8 505.0 1015.2 506.3 1012.5 507.6 1009.9 509.0 1007.2 510.3 1004.5 511.6 1001.9 512.9 999.2 514.2 996.5 515.5 993.8 516.7 991.1 518.0 988.4 519.2 985.6 520.4 982.9 521.7 980.2 522.9 977.4 524.1 974.7 525.3 971.9 526.4 969.2 527.6 966.4 528.8 963.7 529.9 960.9 531.0 958.1 532.2 955.3 533.3 952.5 534.4 949.7 535.5 947.0 536.6 944.2 537.6 941.4 538.7 938.5 539.8 935.7 540.8 932.9 541.9 930.1 542.9 927.3 544.0 924.5 545.0 921.6 546.0 918.8 547.1 916.0 548.1 913.1 549.1 910.3 550.1 907.5 551.1 904.6 552.1 901.8 553.1 899.0 554.1 896.1 555.0 893.3 556.0 890.4 557.0 887.6 558.0 884.7 559.0 881.9 559.9 879.0 560.9 876.2 561.9 873.3 562.9 870.5 563.8 867.7 564.8 864.8 565.8 862.0 566.7 859.1 567.7 856.3 568.6 853.4 569.6 850.6 570.6 847.7 571.5 844.9 572.5 842.0 573.4 839.2 574.4 836.3 575.3 833.5 576.3 830.6 577.3 827.8 578.2 824.9 579.2 822.1 580.1 819.2 581.1 816.4 582.0 813.5 582.9 810.7 583.9 807.8 584.8 805.0 585.8 802.1 586.7 799.3 587.7 796.4 588.6 793.6 589.6 790.7 590.5 787.9 591.4 785.0 592.4 782.2 593.3 779.3 594.2 776.5 595.2 773.6 596.1 770.8 597.1 767.9 598.0 765.1 598.9 762.2 599.9 759.4 600.8 756.5 601.7 753.7 602.7 750.8 603.6 748.0 604.5 745.1 605.5 742.3 606.4 739.4 607.3 736.6 608.3 733.7 609.2 730.9 610.1 728.1 611.1 725.2 612.0 722.4 612.9 719.5 613.9 716.7 614.8 713.8 615.7 711.0 616.6 708.1 617.6 705.3 618.5 702.4 619.4 699.6 620.4 696.7 621.3 693.9 622.2 691.0 623.2 688.2 624.1 685.3 625.0 682.5 626.0 679.6 626.9 676.8 627.8 673.9 628.7 671.1 629.7 668.2 630.6 665.4 631.5 662.6 632.5 659.7 633.4 656.9 634.4 654.0 635.3 651.2 636.2 648.3 637.2 645.5 638.1 642.7 639.1 639.8 640.0 637.0 641.0 634.1 642.0 631.3 642.9 628.5 643.9 625.6 644.9 622.8 645.9 620.0 646.9 617.2 647.9 614.3 648.9 611.5 649.9 608.7 650.9 605.9 651.9 603.1 653.0 600.3 654.0 597.5 655.1 594.7 656.1 591.9 657.2 589.1 658.3 586.3 659.4 583.5 660.5 580.7 661.6 577.9 662.7 575.1 663.8 572.3 665.0 569.6 666.1 566.8 667.3 564.0 668.5 561.3 669.7 558.5 670.9 555.8 672.1 553.0 673.3 550.3 674.6 547.6 675.8 544.8 677.1 542.1 678.4 539.4 679.7 536.7 681.0 533.9 682.4 531.2 683.7 528.5 685.1 525.8 686.5 523.2 687.8 520.5 689.3 517.8 690.7 515.1 692.1 512.5 693.5 509.8 695.0 507.2 696.5 504.5 697.9 501.9 699.4 499.3 700.9 496.6 702.4 494.0 703.9 491.4 705.5 488.8 707.0 486.2 708.6 483.6 710.1 481.0 711.7 478.5 713.2 475.9 714.8 473.4 716.4 470.8 718.0 468.3 719.6 465.7 721.2 463.2 722.8 460.7 724.4 458.2 726.1 455.7 727.7 453.2 729.4 450.8 731.0 448.3 732.7 445.8 734.4 443.4 736.2 441.0 737.9 438.6 739.7 436.2 741.5 433.8 743.3 431.5 745.1 429.2 747.0 426.8 748.9 424.5 750.8 422.3 752.7 420.0 754.7 417.8 756.7 415.5 758.8 413.4 760.8 411.2 763.0 409.0 765.1 406.9 767.3 404.8 769.5 402.7 771.8 400.7 774.1 398.7 776.5 396.7 778.9 394.7 781.4 392.8 783.9 390.9 786.4 389.1 789.0 387.3 791.6 385.7 794.3 384.1 797.0 382.7 799.7 381.4 802.4 380.2 805.2 379.3 808.0 378.5 810.8 377.8 813.7 377.4 816.5 377.2 819.4 377.0 822.3 376.9 825.2 376.8 828.1 376.6 831.1 376.3 834.0 376.0 837.0 375.7 839.9 375.5 842.8 375.4 845.8 375.5 848.7 375.8 851.7 376.2 854.6 376.8 857.6 377.5 860.5 378.3 863.4 379.2 866.3 380.1 869.2 381.0 872.1 382.0 875.0 382.9 877.9 383.9 880.7 384.9 883.6 385.9 886.4 387.0 889.1 388.1 891.9 389.2 894.7 390.4 897.4 391.6 900.1 392.9 902.7 394.3 905.4 395.6 908.0 397.0 910.6 398.5 913.2 400.0 915.8 401.5 918.4 403.0 920.9 404.6 923.4 406.2 925.9 407.9 928.4 409.6 930.9 411.3 933.3 413.0 935.8 414.7 938.2 416.5 940.6 418.3 943.0 420.1 945.4 421.9 947.8 423.8 950.2 425.7 952.5 427.5 954.9 429.4 957.2 431.3 959.5 433.2 961.8 435.1 964.1 437.1 966.4 439.0 968.7 441.0 971.0 443.0 973.2 444.9 975.5 446.9 977.7 448.9 979.9 451.0 982.1 453.0 984.3 455.0 986.5 457.1 988.7 459.1 990.9 461.2 993.0 463.3 995.2 465.4 997.3 467.5 999.4 469.6 1001.5 471.7 1003.6 473.9 1005.7 476.0 1007.8 478.2 1009.9 480.4 1011.9 482.5 1013.9 484.7 1016.0 486.9 1018.0 489.2 1020.0 491.4 1022.0 493.6 1023.9 495.9 1025.9 498.1 1027.8 500.4 1029.8 502.6 1031.7 504.9 1033.6 507.2 1035.5 509.5 1037.4 511.8 1039.3 514.2 1041.1 516.5 1043.0 518.8 1044.8 521.2 1046.6 523.6 1048.4 525.9 1050.2 528.3 1052.0 530.7 1053.8 533.1 1055.5 535.5 1057.3 537.9 1059.1 540.3 1060.8 542.8 1062.5 545.2 1064.3 547.7 1066.0 550.1 1067.7 552.6 1069.5 555.1 1071.2 557.6 1072.9 560.1 1074.6 562.6 1076.3 565.1 1078.1 567.6 1079.8 570.1 1081.4 572.7 1083.1 575.2 1084.8 577.7 1086.5 580.2 1088.1 582.7 1089.8 585.3 1091.4 587.8 1093.0 590.3 1094.7 592.8 1096.3 595.2 1097.9 597.7 1099.5 600.2 1101.2 602.6 1102.8 605.1 1104.5 607.5 1106.2 609.9 1107.9 612.3 1109.7 614.6 1111.5 617.0 1113.4 619.3 1115.2 621.7 1117.1 624.0 1119.0 626.3 1120.9 628.6 1122.8 630.9 1124.7 633.2 1126.6 635.6 1128.4 637.9 1130.3 640.2 1132.2 642.6 1134.0 645.0 1135.8 647.4 1137.6 649.8 1139.4 652.2 1141.1 654.7 1142.8 657.1 1144.5 659.6 1146.2 662.1 1147.9 664.6 1149.6 667.1 1151.3 669.6 1152.9 672.1 1154.6 674.6 1156.3 677.2 1157.9 679.7 1159.6 682.2 1161.3 684.7 1162.9 687.2 1164.6 689.7 1166.3 692.2 1168.0 694.6 1169.8 697.1 1171.5 699.5 1173.3 702.0 1175.0 704.4 1176.8 706.8 1178.6 709.1 1180.5 711.5 1182.3 713.9 1184.2 716.2 1186.0 718.5 1187.9 720.9 1189.8 723.2 1191.7 725.5 1193.6 727.8 1195.4 730.1 1197.3 732.4 1199.2 734.8 1201.1 737.1 1203.0 739.4 1204.9 741.7 1206.8 744.0 1208.7 746.3 1210.6 748.7 1212.4 751.0 1214.3 753.3 1216.1 755.7 1218.0 758.1 1219.8 760.4 1221.6 762.8 1223.4 765.2 1225.1 767.7 1226.9 770.1 1228.6 772.5 1230.4 775.0 1232.1 777.5 1233.8 779.9 1235.5 782.4 1237.3 784.8 1239.0 787.3 1240.8 789.7 1242.5 792.2 1244.3 794.6 1246.1 797.0 1247.9 799.4 1249.7 801.7 1251.5 804.1 1253.4 806.4 1255.3 808.7 1257.2 811.0 1259.2 813.3 1261.1 815.5 1263.1 817.7 1265.1 820.0 1267.1 822.2 1269.1 824.4 1271.1 826.6 1273.2 828.8 1275.2 831.0 1277.2 833.2 1279.3 835.3 1281.3 837.5 1283.3 839.7 1285.4 841.9 1287.4 844.1 1289.4 846.3 1291.5 848.6 1293.5 850.8 1295.5 853.0 1297.4 855.3 1299.4 857.6 1301.3 859.9 1303.3 862.2 1305.2 864.5 1307.1 866.9 1309.0 869.2 1310.9 871.6 1312.8 873.9 1314.7 876.3 1316.6 878.7 1318.5 881.0 1320.3 883.4 1322.3 885.7 1324.2 888.1 1326.1 890.4 1328.0 892.7 1330.0 894.9 1332.0 897.2 1334.0 899.4 1336.0 901.6 1338.0 903.8 1340.1 906.0 1342.2 908.1 1344.3 910.2 1346.5 912.3 1348.6 914.3 1350.8 916.4 1353.0 918.4 1355.2 920.4 1357.4 922.4 1359.6 924.4 1361.8 926.3 1364.1 928.3 1366.3 930.3 1368.6 932.2 1370.9 934.2 1373.2 936.1 1375.4 938.0 1377.7 940.0 1380.0 941.9 1382.3 943.9 1384.6 945.8 1386.8 947.8 1389.1 949.7 1391.4 951.7 1393.7 953.7 1396.0 955.6 1398.3 957.6 1400.6 959.6 1402.8 961.5 1405.1 963.5 1407.4 965.5 1409.7 967.4 1412.0 969.4 1414.3 971.3 1416.6 973.3 1418.9 975.2 1421.3 977.2 1423.6 979.1 1425.9 981.1 1428.2 983.0 1430.5 984.9 1432.9 986.8 1435.2 988.8 1437.6 990.7 1439.9 992.6 1442.3 994.4 1444.6 996.3 1447.0 998.2 1449.4 1000.0 1451.7 1001.9 1454.1 1003.7 1456.5 1005.6 1458.9 1007.4 1461.3 1009.2 1463.7 1011.0 1466.1 1012.7 1468.5 1014.5 1471.0 1016.3 1473.4 1018.0 1475.8 1019.8 1478.3 1021.5 1480.7 1023.2 1483.2 1025.0 1485.6 1026.7 1488.1 1028.4 1490.6 1030.0 1493.0 1031.7 1495.5 1033.4 1498.0 1035.0 1500.5 1036.7 1503.0 1038.3 1505.5 1040.0 1508.0 1041.6 1510.5 1043.2 1513.1 1044.8 1515.6 1046.4 1518.1 1048.0 1520.6 1049.5 1523.2 1051.1 1525.7 1052.7 1528.3 1054.2 1530.8 1055.8 1533.4 1057.3 1536.0 1058.8 1538.5 1060.3 1541.1 1061.9 1543.7 1063.4 1546.3 1064.9 1548.9 1066.3 1551.5 1067.8 1554.1 1069.3 1556.7 1070.8 1559.3 1072.2 1561.9 1073.7 1564.5 1075.1 1567.2 1076.5 1569.8 1078.0 1572.4 1079.4 1575.1 1080.8 1577.7 1082.2 1580.4 1083.6 1583.0 1085.0 1585.7 1086.4 1588.3 1087.8 1591.0 1089.1 1593.7 1090.5 1596.3 1091.9 1599.0 1093.2 1601.7 1094.6 1604.4 1095.9 1607.1 1097.3 1609.8 1098.6 1612.5 1099.9 1615.2 1101.2 1617.9 1102.5 1620.6 1103.8 1623.3 1105.1 1626.0 1106.4 1628.7 1107.7 1631.5 1109.0 1634.2 1110.3 1636.9 1111.6 1639.7 1112.8 1642.4 1114.1 1645.1 1115.3 1647.9 1116.6 1650.6 1117.8 1653.4 1119.0 1656.2 1120.3 1658.9 1121.5 1661.7 1122.7 1664.5 1123.9 1667.2 1125.1 1670.0 1126.3 1672.8 1127.5 1675.6 1128.6 1678.3 1129.8 1681.1 1130.9 1683.9 1132.1 1686.7 1133.2 1689.5 1134.3 1692.3 1135.4 1695.1 1136.5 1697.9 1137.6 1700.7 1138.7 1703.5 1139.8 1706.4 1140.9 1709.2 1141.9 1712.0 1143.0 1714.8 1144.0 1717.7 1145.0 1720.5 1146.1 1723.3 1147.1 1726.2 1148.0 1729.0 1149.0 1731.8 1150.0 1734.7 1151.0 1737.5 1151.9 1740.4 1152.8 1743.2 1153.8 1746.1 1154.7 1748.9 1155.6 1751.8 1156.5 1754.6 1157.3 1757.5 1158.2 1760.4 1159.0 1763.2 1159.9 1766.1 1160.7 1769.0 1161.5 1771.8 1162.3 1774.7 1163.1 1777.6 1163.9 1780.5 1164.6 1783.3 1165.4 1786.2 1166.1 1789.1 1166.8 1792.0 1167.5"/>
<path d="M210.0 1211.5L213.0 1211.4 215.9 1211.3 218.9 1211.2 221.9 1211.0 224.9 1210.9 227.9 1210.7 230.8 1210.5 233.8 1210.2 236.8 1210.0 239.8 1209.7 242.8 1209.4 245.8 1209.1 248.8 1208.8 251.8 1208.4 254.8 1208.1 257.8 1207.7 260.8 1207.3 263.8 1206.8 266.8 1206.4 269.7 1205.9 272.7 1205.5 275.7 1205.0 278.7 1204.5 281.7 1203.9 284.7 1203.4 287.6 1202.8 290.6 1202.2 293.5 1201.7 296.5 1201.0 299.5 1200.4 302.4 1199.8 305.3 1199.1 308.3 1198.5 311.2 1197.8 314.1 1197.1 317.0 1196.4 319.9 1195.6 322.8 1194.9 325.7 1194.1 328.6 1193.3 331.4 1192.5 334.3 1191.7 337.2 1190.9 340.0 1190.0 342.8 1189.1 345.6 1188.1 348.4 1187.1 351.2 1186.1 354.0 1185.0 356.8 1183.9 359.5 1182.7 362.3 1181.5 365.0 1180.2 367.7 1178.9 370.4 1177.5 373.1 1176.0 375.8 1174.5 378.4 1173.0 381.0 1171.4 383.6 1169.8 386.2 1168.1 388.7 1166.4 391.2 1164.7 393.7 1162.9 396.1 1161.0 398.5 1159.2 400.9 1157.3 403.2 1155.3 405.5 1153.4 407.7 1151.4 409.9 1149.3 412.1 1147.3 414.3 1145.2 416.4 1143.1 418.5 1141.0 420.5 1138.8 422.6 1136.7 424.6 1134.5 426.5 1132.3 428.5 1130.1 430.5 1127.8 432.4 1125.6 434.3 1123.3 436.2 1121.1 438.1 1118.8 440.0 1116.5 441.9 1114.2 443.8 1111.9 445.6 1109.6 447.5 1107.3 449.3 1105.0 451.2 1102.7 453.0 1100.3 454.8 1098.0 456.7 1095.6 458.5 1093.3 460.3 1090.9 462.1 1088.6 463.9 1086.2 465.7 1083.8 467.5 1081.5 469.4 1079.1 471.2 1076.7 473.0 1074.3 474.8 1071.9 476.6 1069.5 478.4 1067.1 480.2 1064.7 482.1 1062.3 483.9 1059.9 485.7 1057.5 487.5 1055.1 489.4 1052.6 491.2 1050.2 493.1 1047.8 494.9 1045.4 496.8 1042.9 498.7 1040.5 500.5 1038.1 502.4 1035.6 504.3 1033.2 506.1 1030.7 508.0 1028.3 509.8 1025.9 511.6 1023.4 513.4 1020.9 515.2 1018.5 517.0 1016.0 518.7 1013.5 520.4 1011.1 522.1 1008.6 523.8 1006.1 525.5 1003.6 527.1 1001.1 528.7 998.6 530.3 996.1 531.8 993.6 533.4 991.1 534.9 988.6 536.5 986.1 538.0 983.6 539.5 981.0 540.9 978.5 542.4 976.0 543.9 973.4 545.3 970.9 546.8 968.3 548.3 965.7 549.7 963.2 551.1 960.6 552.6 958.0 554.0 955.4 555.5 952.8 556.9 950.2 558.3 947.6 559.7 945.0 561.2 942.4 562.6 939.7 564.0 937.1 565.4 934.5 566.8 931.8 568.2 929.2 569.6 926.5 571.1 923.9 572.5 921.2 573.9 918.6 575.3 915.9 576.7 913.2 578.1 910.6 579.4 907.9 580.8 905.2 582.2 902.5 583.6 899.8 585.0 897.1 586.4 894.5 587.8 891.8 589.2 889.1 590.5 886.4 591.9 883.7 593.3 881.0 594.7 878.3 596.0 875.6 597.4 872.9 598.8 870.2 600.2 867.5 601.5 864.7 602.9 862.0 604.3 859.3 605.6 856.6 607.0 853.9 608.4 851.2 609.7 848.5 611.1 845.8 612.5 843.1 613.8 840.4 615.2 837.7 616.6 834.9 617.9 832.2 619.3 829.5 620.7 826.8 622.0 824.1 623.4 821.4 624.8 818.7 626.1 816.0 627.5 813.3 628.9 810.6 630.2 807.9 631.6 805.3 632.9 802.6 634.3 799.9 635.7 797.2 637.0 794.5 638.4 791.9 639.8 789.2 641.2 786.5 642.5 783.9 643.9 781.2 645.3 778.6 646.7 775.9 648.1 773.3 649.5 770.6 650.9 768.0 652.3 765.3 653.7 762.7 655.1 760.1 656.5 757.5 657.9 754.9 659.4 752.3 660.8 749.7 662.3 747.1 663.7 744.5 665.2 741.9 666.7 739.3 668.2 736.8 669.7 734.2 671.2 731.6 672.7 729.1 674.2 726.5 675.8 724.0 677.4 721.5 678.9 719.0 680.5 716.5 682.1 714.0 683.7 711.5 685.4 709.0 687.0 706.5 688.7 704.0 690.3 701.6 692.0 699.1 693.7 696.7 695.5 694.2 697.2 691.8 699.0 689.4 700.8 687.0 702.6 684.6 704.4 682.2 706.2 679.8 708.1 677.5 710.0 675.1 711.9 672.8 713.8 670.4 715.7 668.1 717.7 665.8 719.7 663.5 721.7 661.2 723.7 659.0 725.8 656.8 727.8 654.7 729.9 652.6 732.1 650.5 734.2 648.5 736.4 646.6 738.5 644.6 740.8 642.6 743.0 640.6 745.3 638.5 747.6 636.4 749.9 634.2 752.2 632.0 754.6 629.9 757.0 627.9 759.5 626.0 762.0 624.3 764.5 622.9 767.0 621.8 769.6 620.9 772.2 620.1 774.9 619.3 777.6 618.3 780.3 617.1 783.0 615.6 785.8 614.1 788.6 612.7 791.5 611.5 794.3 610.5 797.2 610.0 800.1 609.9 803.1 609.9 806.0 610.0 808.9 610.0 811.9 609.7 814.9 609.2 817.8 608.4 820.8 607.4 823.7 606.5 826.7 605.8 829.7 605.3 832.6 605.0 835.5 605.0 838.5 605.0 841.4 605.0 844.3 605.0 847.2 604.8 850.1 604.7 853.0 604.7 855.8 605.0 858.7 605.6 861.6 606.7 864.4 608.0 867.3 609.6 870.1 611.2 872.9 612.6 875.7 613.9 878.5 614.8 881.3 615.6 884.1 616.3 886.9 617.0 889.7 617.9 892.4 619.0 895.2 620.3 897.9 621.8 900.7 623.2 903.4 624.7 906.1 626.1 908.8 627.3 911.5 628.4 914.2 629.3 916.8 630.3 919.5 631.2 922.2 632.2 924.8 633.3 927.4 634.4 930.1 635.7 932.7 637.1 935.3 638.5 937.9 640.0 940.4 641.6 943.0 643.2 945.6 644.9 948.1 646.7 950.6 648.4 953.2 650.2 955.7 652.0 958.2 653.9 960.7 655.7 963.2 657.5 965.6 659.3 968.1 661.2 970.5 663.0 973.0 664.8 975.4 666.6 977.8 668.5 980.2 670.3 982.6 672.1 985.0 673.9 987.4 675.8 989.8 677.6 992.1 679.4 994.5 681.3 996.8 683.1 999.2 685.0 1001.5 686.8 1003.8 688.7 1006.1 690.5 1008.4 692.4 1010.7 694.3 1013.0 696.2 1015.2 698.1 1017.5 700.0 1019.8 701.9 1022.0 703.8 1024.3 705.7 1026.5 707.7 1028.7 709.6 1031.0 711.6 1033.2 713.6 1035.4 715.5 1037.6 717.5 1039.8 719.6 1042.0 721.6 1044.2 723.6 1046.3 725.7 1048.5 727.8 1050.7 729.9 1052.9 732.0 1055.0 734.1 1057.2 736.2 1059.3 738.3 1061.5 740.5 1063.6 742.7 1065.7 744.8 1067.9 747.0 1070.0 749.2 1072.1 751.4 1074.3 753.6 1076.4 755.8 1078.5 758.0 1080.6 760.2 1082.7 762.4 1084.8 764.7 1086.9 766.9 1089.0 769.1 1091.1 771.3 1093.2 773.5 1095.3 775.7 1097.4 777.9 1099.5 780.1 1101.6 782.3 1103.6 784.4 1105.7 786.6 1107.8 788.8 1109.9 790.9 1112.0 793.0 1114.1 795.2 1116.1 797.3 1118.2 799.4 1120.3 801.5 1122.4 803.6 1124.5 805.7 1126.5 807.8 1128.6 809.8 1130.7 811.9 1132.8 814.0 1134.9 816.1 1136.9 818.1 1139.0 820.2 1141.1 822.3 1143.2 824.3 1145.3 826.4 1147.4 828.5 1149.5 830.5 1151.5 832.6 1153.6 834.7 1155.7 836.8 1157.8 838.9 1159.9 841.0 1162.0 843.1 1164.2 845.2 1166.3 847.3 1168.4 849.4 1170.5 851.6 1172.6 853.7 1174.7 855.8 1176.9 858.0 1179.0 860.1 1181.1 862.3 1183.2 864.4 1185.4 866.5 1187.5 868.7 1189.7 870.8 1191.8 873.0 1194.0 875.1 1196.1 877.3 1198.3 879.4 1200.4 881.6 1202.6 883.7 1204.8 885.8 1206.9 888.0 1209.1 890.1 1211.3 892.2 1213.5 894.4 1215.7 896.5 1217.9 898.6 1220.1 900.7 1222.3 902.8 1224.5 904.9 1226.7 907.0 1228.9 909.1 1231.1 911.2 1233.3 913.2 1235.6 915.3 1237.8 917.3 1240.0 919.4 1242.3 921.4 1244.5 923.5 1246.8 925.5 1249.0 927.5 1251.3 929.5 1253.5 931.4 1255.8 933.4 1258.1 935.4 1260.4 937.3 1262.7 939.3 1264.9 941.2 1267.2 943.1 1269.5 945.0 1271.8 946.8 1274.2 948.7 1276.5 950.5 1278.8 952.4 1281.1 954.2 1283.5 956.0 1285.8 957.8 1288.1 959.6 1290.5 961.3 1292.8 963.1 1295.2 964.8 1297.6 966.6 1299.9 968.3 1302.3 970.1 1304.7 971.8 1307.1 973.5 1309.5 975.3 1311.9 977.0 1314.3 978.7 1316.7 980.5 1319.1 982.2 1321.5 984.0 1323.9 985.7 1326.4 987.5 1328.8 989.2 1331.2 991.0 1333.7 992.7 1336.1 994.5 1338.6 996.3 1341.0 998.0 1343.5 999.8 1345.9 1001.6 1348.4 1003.3 1350.9 1005.1 1353.4 1006.8 1355.8 1008.6 1358.3 1010.3 1360.8 1012.1 1363.3 1013.8 1365.8 1015.6 1368.3 1017.3 1370.8 1019.0 1373.4 1020.8 1375.9 1022.5 1378.4 1024.2 1380.9 1025.9 1383.4 1027.6 1386.0 1029.3 1388.5 1031.0 1391.1 1032.6 1393.6 1034.3 1396.2 1036.0 1398.7 1037.6 1401.3 1039.2 1403.8 1040.9 1406.4 1042.5 1409.0 1044.1 1411.5 1045.7 1414.1 1047.2 1416.7 1048.8 1419.3 1050.4 1421.9 1051.9 1424.5 1053.5 1427.1 1055.0 1429.7 1056.5 1432.3 1058.0 1434.9 1059.5 1437.5 1061.0 1440.1 1062.5 1442.7 1063.9 1445.4 1065.4 1448.0 1066.8 1450.6 1068.3 1453.3 1069.7 1455.9 1071.1 1458.5 1072.5 1461.2 1073.9 1463.8 1075.3 1466.5 1076.7 1469.1 1078.1 1471.8 1079.5 1474.5 1080.8 1477.1 1082.2 1479.8 1083.5 1482.5 1084.8 1485.2 1086.2 1487.8 1087.5 1490.5 1088.8 1493.2 1090.1 1495.9 1091.4 1498.6 1092.6 1501.3 1093.9 1504.0 1095.2 1506.7 1096.4 1509.4 1097.7 1512.1 1098.9 1514.8 1100.2 1517.6 1101.4 1520.3 1102.6 1523.0 1103.8 1525.7 1105.0 1528.5 1106.2 1531.2 1107.4 1533.9 1108.6 1536.7 1109.8 1539.4 1111.0 1542.2 1112.1 1544.9 1113.3 1547.7 1114.4 1550.4 1115.6 1553.2 1116.7 1556.0 1117.9 1558.7 1119.0 1561.5 1120.1 1564.3 1121.2 1567.0 1122.3 1569.8 1123.4 1572.6 1124.5 1575.4 1125.6 1578.2 1126.7 1581.0 1127.8 1583.8 1128.9 1586.6 1129.9 1589.4 1131.0 1592.2 1132.1 1595.0 1133.1 1597.8 1134.2 1600.6 1135.2 1603.4 1136.2 1606.2 1137.3 1609.0 1138.3 1611.9 1139.3 1614.7 1140.3 1617.5 1141.4 1620.4 1142.4 1623.2 1143.4 1626.0 1144.4 1628.9 1145.4 1631.7 1146.4 1634.6 1147.4 1637.4 1148.3 1640.3 1149.3 1643.1 1150.3 1646.0 1151.3 1648.8 1152.2 1651.7 1153.2 1654.6 1154.1 1657.4 1155.0 1660.3 1156.0 1663.2 1156.9 1666.1 1157.8 1668.9 1158.7 1671.8 1159.6 1674.7 1160.5 1677.6 1161.4 1680.5 1162.2 1683.4 1163.1 1686.3 1164.0 1689.2 1164.8 1692.1 1165.6 1695.0 1166.4 1697.9 1167.2 1700.8 1168.0 1703.7 1168.8 1706.6 1169.6 1709.5 1170.4 1712.4 1171.1 1715.3 1171.8 1718.3 1172.6 1721.2 1173.3 1724.1 1174.0 1727.0 1174.6 1730.0 1175.3 1732.9 1176.0 1735.8 1176.6 1738.8 1177.2 1741.7 1177.8 1744.6 1178.4 1747.6 1179.0 1750.5 1179.6 1753.5 1180.1 1756.4 1180.7 1759.4 1181.2 1762.3 1181.7 1765.3 1182.2 1768.3 1182.6 1771.2 1183.1 1774.2 1183.5 1777.1 1183.9 1780.1 1184.3 1783.1 1184.7 1786.1 1185.0 1789.0 1185.4 1792.0 1185.7"/>
<path d="M210.0 1205.5L212.9 1205.4 215.8 1205.2 218.7 1205.1 221.7 1205.0 224.6 1204.8 227.5 1204.7 230.5 1204.6 233.4 1204.4 236.4 1204.3 239.3 1204.2 242.3 1204.0 245.3 1203.8 248.2 1203.7 251.2 1203.5 254.2 1203.2 257.2 1203.0 260.2 1202.8 263.2 1202.5 266.2 1202.2 269.1 1201.9 272.1 1201.5 275.1 1201.1 278.1 1200.7 281.1 1200.2 284.1 1199.8 287.1 1199.2 290.1 1198.7 293.1 1198.1 296.1 1197.4 299.1 1196.7 302.1 1196.0 305.1 1195.3 308.1 1194.5 311.0 1193.7 314.0 1192.9 317.0 1192.0 320.0 1191.2 322.9 1190.3 325.9 1189.5 328.9 1188.6 331.8 1187.7 334.8 1186.9 337.7 1186.0 340.6 1185.1 343.6 1184.3 346.5 1183.4 349.4 1182.6 352.3 1181.8 355.2 1181.0 358.1 1180.2 361.0 1179.4 363.9 1178.7 366.7 1177.9 369.6 1177.2 372.4 1176.4 375.3 1175.6 378.1 1174.8 380.9 1174.0 383.7 1173.2 386.5 1172.4 389.3 1171.5 392.1 1170.6 394.8 1169.7 397.6 1168.7 400.3 1167.7 403.0 1166.7 405.7 1165.6 408.4 1164.4 411.1 1163.2 413.8 1161.9 416.4 1160.6 419.0 1159.3 421.7 1157.8 424.3 1156.4 426.8 1154.9 429.4 1153.3 432.0 1151.7 434.5 1150.1 437.1 1148.4 439.6 1146.7 442.1 1145.0 444.6 1143.3 447.0 1141.5 449.5 1139.7 451.9 1138.0 454.4 1136.1 456.8 1134.3 459.2 1132.5 461.6 1130.7 463.9 1128.8 466.3 1127.0 468.6 1125.1 471.0 1123.3 473.3 1121.4 475.6 1119.5 477.9 1117.6 480.1 1115.7 482.4 1113.8 484.6 1111.8 486.9 1109.8 489.1 1107.8 491.3 1105.8 493.5 1103.8 495.6 1101.7 497.8 1099.6 499.9 1097.5 502.0 1095.4 504.2 1093.2 506.2 1091.0 508.3 1088.8 510.4 1086.6 512.4 1084.3 514.5 1082.1 516.5 1079.8 518.5 1077.6 520.5 1075.3 522.5 1073.0 524.5 1070.7 526.4 1068.4 528.4 1066.1 530.3 1063.8 532.2 1061.5 534.1 1059.2 536.0 1056.9 537.9 1054.5 539.8 1052.2 541.7 1049.9 543.5 1047.5 545.4 1045.2 547.2 1042.8 549.1 1040.5 550.9 1038.1 552.7 1035.7 554.5 1033.3 556.3 1031.0 558.1 1028.6 559.9 1026.2 561.7 1023.8 563.5 1021.4 565.3 1019.0 567.1 1016.6 568.9 1014.2 570.6 1011.8 572.4 1009.4 574.2 1007.0 575.9 1004.6 577.7 1002.2 579.5 999.7 581.2 997.3 583.0 994.9 584.7 992.5 586.5 990.0 588.2 987.6 590.0 985.2 591.7 982.8 593.4 980.3 595.2 977.9 596.9 975.5 598.7 973.0 600.4 970.6 602.2 968.2 603.9 965.8 605.7 963.3 607.4 960.9 609.2 958.5 610.9 956.0 612.7 953.6 614.4 951.2 616.2 948.8 617.9 946.4 619.7 943.9 621.5 941.5 623.2 939.1 625.0 936.7 626.8 934.3 628.6 931.9 630.4 929.5 632.1 927.0 633.9 924.7 635.7 922.3 637.6 919.9 639.4 917.5 641.2 915.1 643.0 912.7 644.9 910.4 646.7 908.0 648.6 905.6 650.5 903.3 652.3 901.0 654.2 898.6 656.1 896.3 658.0 894.0 660.0 891.7 661.9 889.4 663.8 887.1 665.8 884.8 667.8 882.6 669.8 880.3 671.8 878.1 673.8 875.9 675.8 873.7 677.9 871.5 680.0 869.3 682.0 867.1 684.1 865.0 686.3 862.8 688.4 860.7 690.6 858.6 692.7 856.5 694.9 854.4 697.2 852.4 699.4 850.3 701.7 848.3 703.9 846.3 706.2 844.3 708.6 842.4 710.9 840.5 713.3 838.6 715.6 836.7 718.1 834.8 720.5 833.0 722.9 831.2 725.4 829.5 727.9 827.7 730.4 826.1 732.9 824.4 735.5 822.8 738.0 821.2 740.6 819.7 743.2 818.2 745.8 816.8 748.5 815.4 751.2 814.1 753.8 812.8 756.5 811.5 759.3 810.3 762.0 809.2 764.8 808.1 767.6 807.1 770.4 806.1 773.2 805.2 776.0 804.4 778.8 803.6 781.7 802.8 784.6 802.1 787.5 801.5 790.4 800.9 793.3 800.4 796.2 799.9 799.2 799.5 802.1 799.2 805.1 798.8 808.0 798.6 811.0 798.4 814.0 798.2 816.9 798.1 819.9 798.1 822.9 798.1 825.9 798.0 828.9 798.1 831.9 798.1 834.9 798.1 837.9 798.1 840.8 798.1 843.8 798.0 846.8 798.0 849.8 798.0 852.8 798.1 855.8 798.1 858.7 798.2 861.7 798.4 864.7 798.6 867.6 798.8 870.6 799.2 873.6 799.6 876.5 800.0 879.5 800.6 882.4 801.3 885.3 802.0 888.3 802.8 891.2 803.6 894.1 804.5 897.0 805.5 899.9 806.4 902.8 807.4 905.7 808.4 908.6 809.4 911.4 810.4 914.3 811.5 917.1 812.5 920.0 813.6 922.8 814.6 925.6 815.7 928.4 816.7 931.2 817.8 934.0 818.9 936.8 820.0 939.6 821.1 942.4 822.2 945.1 823.4 947.9 824.5 950.6 825.7 953.4 826.8 956.1 828.0 958.8 829.2 961.5 830.4 964.3 831.6 967.0 832.9 969.6 834.1 972.3 835.4 975.0 836.7 977.7 838.0 980.3 839.3 983.0 840.6 985.6 842.0 988.2 843.3 990.9 844.7 993.5 846.1 996.1 847.6 998.7 849.0 1001.3 850.5 1003.9 851.9 1006.4 853.5 1009.0 855.0 1011.6 856.5 1014.1 858.1 1016.7 859.7 1019.2 861.3 1021.8 862.9 1024.3 864.5 1026.8 866.2 1029.3 867.9 1031.8 869.5 1034.4 871.2 1036.9 872.9 1039.4 874.6 1041.9 876.4 1044.4 878.1 1046.8 879.8 1049.3 881.6 1051.8 883.3 1054.3 885.1 1056.8 886.9 1059.2 888.6 1061.7 890.4 1064.2 892.2 1066.7 893.9 1069.1 895.7 1071.6 897.5 1074.1 899.2 1076.6 901.0 1079.0 902.8 1081.5 904.5 1084.0 906.3 1086.4 908.0 1088.9 909.7 1091.4 911.4 1093.9 913.2 1096.4 914.9 1098.9 916.6 1101.3 918.2 1103.8 919.9 1106.3 921.5 1108.8 923.2 1111.3 924.8 1113.8 926.4 1116.4 928.0 1118.9 929.6 1121.4 931.2 1123.9 932.7 1126.4 934.3 1129.0 935.8 1131.5 937.4 1134.0 938.9 1136.6 940.4 1139.1 941.9 1141.6 943.5 1144.2 945.0 1146.7 946.5 1149.2 948.0 1151.8 949.6 1154.3 951.1 1156.9 952.6 1159.4 954.2 1162.0 955.7 1164.5 957.2 1167.0 958.8 1169.6 960.3 1172.1 961.9 1174.7 963.4 1177.2 965.0 1179.8 966.5 1182.3 968.1 1184.9 969.6 1187.4 971.2 1190.0 972.8 1192.6 974.3 1195.1 975.9 1197.7 977.5 1200.2 979.0 1202.8 980.6 1205.3 982.2 1207.9 983.7 1210.5 985.3 1213.0 986.9 1215.6 988.4 1218.2 990.0 1220.7 991.6 1223.3 993.1 1225.9 994.7 1228.4 996.3 1231.0 997.8 1233.6 999.4 1236.2 1000.9 1238.7 1002.5 1241.3 1004.0 1243.9 1005.6 1246.5 1007.2 1249.1 1008.7 1251.6 1010.3 1254.2 1011.8 1256.8 1013.3 1259.4 1014.9 1262.0 1016.4 1264.6 1018.0 1267.2 1019.5 1269.8 1021.0 1272.4 1022.5 1275.0 1024.1 1277.6 1025.6 1280.2 1027.1 1282.8 1028.6 1285.4 1030.1 1288.0 1031.6 1290.6 1033.1 1293.2 1034.6 1295.8 1036.1 1298.4 1037.5 1301.0 1039.0 1303.6 1040.5 1306.3 1042.0 1308.9 1043.4 1311.5 1044.9 1314.1 1046.3 1316.8 1047.8 1319.4 1049.2 1322.0 1050.7 1324.7 1052.1 1327.3 1053.5 1329.9 1054.9 1332.6 1056.4 1335.2 1057.8 1337.8 1059.2 1340.5 1060.6 1343.1 1062.0 1345.8 1063.4 1348.4 1064.9 1351.1 1066.3 1353.8 1067.7 1356.4 1069.1 1359.1 1070.5 1361.8 1071.8 1364.4 1073.2 1367.1 1074.6 1369.8 1076.0 1372.4 1077.4 1375.1 1078.8 1377.8 1080.2 1380.5 1081.6 1383.2 1082.9 1385.9 1084.3 1388.6 1085.7 1391.3 1087.1 1394.0 1088.5 1396.7 1089.8 1399.4 1091.2 1402.1 1092.6 1404.8 1094.0 1407.5 1095.4 1410.2 1096.7 1413.0 1098.1 1415.7 1099.4 1418.4 1100.8 1421.1 1102.1 1423.9 1103.4 1426.6 1104.7 1429.4 1106.0 1432.1 1107.3 1434.9 1108.5 1437.6 1109.8 1440.4 1110.9 1443.1 1112.1 1445.9 1113.3 1448.7 1114.4 1451.4 1115.4 1454.2 1116.5 1457.0 1117.5 1459.8 1118.5 1462.6 1119.4 1465.4 1120.3 1468.2 1121.1 1471.0 1121.9 1473.8 1122.7 1476.6 1123.5 1479.4 1124.2 1482.2 1125.0 1485.0 1125.7 1487.8 1126.4 1490.7 1127.2 1493.5 1127.9 1496.3 1128.7 1499.2 1129.5 1502.0 1130.3 1504.8 1131.2 1507.7 1132.0 1510.5 1132.9 1513.4 1133.9 1516.3 1134.8 1519.1 1135.7 1522.0 1136.7 1524.8 1137.7 1527.7 1138.6 1530.6 1139.6 1533.5 1140.6 1536.3 1141.5 1539.2 1142.5 1542.1 1143.5 1545.0 1144.4 1547.9 1145.3 1550.8 1146.2 1553.6 1147.1 1556.5 1148.0 1559.4 1148.9 1562.3 1149.7 1565.2 1150.6 1568.1 1151.4 1571.0 1152.2 1574.0 1153.0 1576.9 1153.7 1579.8 1154.5 1582.7 1155.3 1585.6 1156.0 1588.5 1156.7 1591.5 1157.5 1594.4 1158.2 1597.3 1158.9 1600.2 1159.6 1603.2 1160.2 1606.1 1160.9 1609.0 1161.6 1612.0 1162.3 1614.9 1162.9 1617.8 1163.6 1620.8 1164.2 1623.7 1164.9 1626.6 1165.5 1629.6 1166.1 1632.5 1166.8 1635.5 1167.4 1638.4 1168.0 1641.4 1168.6 1644.3 1169.2 1647.3 1169.8 1650.2 1170.4 1653.2 1171.0 1656.1 1171.6 1659.1 1172.2 1662.0 1172.7 1665.0 1173.3 1667.9 1173.9 1670.9 1174.4 1673.8 1175.0 1676.8 1175.6 1679.7 1176.1 1682.7 1176.7 1685.7 1177.2 1688.6 1177.7 1691.6 1178.3 1694.5 1178.8 1697.5 1179.3 1700.5 1179.9 1703.4 1180.4 1706.4 1180.9 1709.3 1181.4 1712.3 1182.0 1715.2 1182.5 1718.2 1183.0 1721.2 1183.5 1724.1 1184.0 1727.1 1184.5 1730.0 1185.0 1733.0 1185.5 1736.0 1186.0 1738.9 1186.5 1741.9 1187.0 1744.8 1187.5 1747.8 1188.0 1750.7 1188.5 1753.7 1188.9 1756.6 1189.4 1759.6 1189.9 1762.5 1190.4 1765.5 1190.9 1768.4 1191.4 1771.4 1191.8 1774.3 1192.3 1777.3 1192.8 1780.2 1193.3 1783.2 1193.8 1786.1 1194.2 1789.1 1194.7 1792.0 1195.2"/>
<path d="M210.0 1201.5L212.9 1201.5 215.9 1201.6 218.8 1201.6 221.8 1201.6 224.7 1201.5 227.7 1201.5 230.7 1201.4 233.6 1201.3 236.6 1201.2 239.6 1201.1 242.6 1200.9 245.5 1200.7 248.5 1200.6 251.5 1200.4 254.5 1200.1 257.5 1199.9 260.5 1199.6 263.5 1199.4 266.5 1199.1 269.5 1198.8 272.5 1198.4 275.5 1198.1 278.5 1197.7 281.5 1197.4 284.5 1197.0 287.5 1196.6 290.5 1196.1 293.5 1195.7 296.5 1195.2 299.5 1194.8 302.5 1194.3 305.5 1193.8 308.4 1193.2 311.4 1192.7 314.4 1192.2 317.4 1191.6 320.4 1191.0 323.4 1190.4 326.4 1189.8 329.3 1189.2 332.3 1188.5 335.3 1187.9 338.2 1187.2 341.2 1186.6 344.2 1185.9 347.1 1185.2 350.1 1184.4 353.0 1183.7 355.9 1183.0 358.9 1182.2 361.8 1181.4 364.7 1180.6 367.6 1179.9 370.5 1179.0 373.4 1178.2 376.3 1177.4 379.2 1176.5 382.1 1175.7 385.0 1174.8 387.8 1173.9 390.7 1173.0 393.5 1172.1 396.4 1171.2 399.2 1170.3 402.0 1169.3 404.9 1168.3 407.7 1167.4 410.5 1166.3 413.2 1165.3 416.0 1164.3 418.8 1163.2 421.5 1162.1 424.3 1161.0 427.0 1159.9 429.8 1158.7 432.5 1157.5 435.2 1156.3 437.9 1155.1 440.5 1153.9 443.2 1152.6 445.9 1151.3 448.5 1149.9 451.1 1148.6 453.8 1147.2 456.4 1145.8 458.9 1144.3 461.5 1142.8 464.1 1141.3 466.6 1139.8 469.2 1138.2 471.7 1136.6 474.2 1135.0 476.7 1133.4 479.2 1131.7 481.7 1130.0 484.1 1128.3 486.6 1126.5 489.0 1124.8 491.5 1123.0 493.9 1121.2 496.3 1119.3 498.7 1117.5 501.0 1115.6 503.4 1113.7 505.8 1111.8 508.1 1109.9 510.5 1108.0 512.8 1106.0 515.1 1104.1 517.4 1102.1 519.7 1100.1 522.0 1098.1 524.3 1096.1 526.6 1094.1 528.9 1092.0 531.1 1090.0 533.4 1088.0 535.6 1085.9 537.8 1083.8 540.1 1081.8 542.3 1079.7 544.5 1077.6 546.7 1075.5 548.9 1073.5 551.1 1071.4 553.2 1069.3 555.4 1067.2 557.6 1065.1 559.7 1063.0 561.9 1061.0 564.0 1058.9 566.2 1056.8 568.3 1054.7 570.4 1052.6 572.6 1050.6 574.7 1048.5 576.8 1046.4 578.9 1044.4 581.0 1042.3 583.2 1040.2 585.3 1038.1 587.4 1036.1 589.5 1034.0 591.6 1031.9 593.7 1029.9 595.8 1027.8 597.9 1025.7 600.0 1023.6 602.1 1021.5 604.3 1019.4 606.4 1017.4 608.5 1015.3 610.6 1013.2 612.8 1011.1 614.9 1009.0 617.0 1006.8 619.2 1004.7 621.3 1002.6 623.5 1000.5 625.7 998.4 627.8 996.3 630.0 994.2 632.2 992.1 634.4 990.0 636.6 987.9 638.9 985.8 641.1 983.7 643.3 981.6 645.6 979.6 647.8 977.6 650.1 975.5 652.4 973.5 654.7 971.5 657.0 969.6 659.4 967.6 661.7 965.7 664.1 963.8 666.4 961.9 668.8 960.0 671.2 958.2 673.6 956.4 676.1 954.6 678.5 952.8 681.0 951.1 683.5 949.4 686.0 947.8 688.6 946.2 691.1 944.6 693.7 943.0 696.3 941.5 698.9 940.0 701.5 938.6 704.1 937.1 706.8 935.8 709.5 934.4 712.1 933.1 714.8 931.8 717.6 930.5 720.3 929.3 723.0 928.1 725.8 927.0 728.6 925.9 731.4 924.8 734.2 923.7 737.0 922.7 739.8 921.7 742.6 920.7 745.5 919.8 748.3 918.8 751.2 918.0 754.1 917.1 757.0 916.3 759.9 915.5 762.8 914.8 765.7 914.0 768.6 913.3 771.6 912.7 774.5 912.0 777.4 911.4 780.4 910.9 783.3 910.3 786.3 909.8 789.3 909.3 792.2 908.9 795.2 908.5 798.2 908.1 801.2 907.8 804.2 907.5 807.2 907.3 810.2 907.1 813.2 906.9 816.1 906.8 819.1 906.8 822.1 906.7 825.1 906.7 828.1 906.8 831.1 906.9 834.2 907.0 837.1 907.2 840.1 907.4 843.1 907.6 846.1 907.9 849.1 908.2 852.1 908.5 855.1 908.9 858.1 909.2 861.1 909.7 864.0 910.1 867.0 910.6 870.0 911.0 872.9 911.5 875.9 912.1 878.8 912.6 881.8 913.2 884.7 913.8 887.6 914.4 890.5 915.0 893.5 915.7 896.4 916.3 899.3 917.0 902.2 917.7 905.1 918.5 908.0 919.2 910.8 919.9 913.7 920.7 916.6 921.5 919.4 922.3 922.3 923.2 925.2 924.0 928.0 924.9 930.9 925.7 933.7 926.6 936.5 927.5 939.4 928.4 942.2 929.4 945.0 930.3 947.8 931.3 950.7 932.3 953.5 933.3 956.3 934.3 959.1 935.3 961.9 936.3 964.7 937.4 967.5 938.4 970.2 939.5 973.0 940.6 975.8 941.7 978.6 942.8 981.3 943.9 984.1 945.0 986.9 946.2 989.6 947.3 992.4 948.5 995.2 949.6 997.9 950.8 1000.7 952.0 1003.4 953.2 1006.2 954.4 1008.9 955.6 1011.6 956.9 1014.4 958.1 1017.1 959.3 1019.8 960.6 1022.6 961.9 1025.3 963.1 1028.0 964.4 1030.8 965.7 1033.5 967.0 1036.2 968.3 1038.9 969.6 1041.6 970.9 1044.4 972.2 1047.1 973.5 1049.8 974.8 1052.5 976.1 1055.2 977.5 1057.9 978.8 1060.6 980.1 1063.3 981.5 1066.0 982.8 1068.7 984.2 1071.4 985.5 1074.2 986.9 1076.9 988.2 1079.6 989.6 1082.3 991.0 1085.0 992.3 1087.7 993.7 1090.4 995.1 1093.1 996.4 1095.8 997.8 1098.5 999.2 1101.2 1000.6 1103.9 1001.9 1106.6 1003.3 1109.3 1004.7 1112.0 1006.0 1114.7 1007.4 1117.4 1008.8 1120.1 1010.1 1122.8 1011.5 1125.5 1012.9 1128.2 1014.2 1130.9 1015.6 1133.6 1017.0 1136.4 1018.3 1139.1 1019.7 1141.8 1021.0 1144.5 1022.4 1147.2 1023.7 1149.9 1025.0 1152.6 1026.4 1155.4 1027.7 1158.1 1029.0 1160.8 1030.4 1163.5 1031.7 1166.2 1033.0 1169.0 1034.3 1171.7 1035.7 1174.4 1037.0 1177.2 1038.3 1179.9 1039.6 1182.6 1040.9 1185.3 1042.2 1188.1 1043.5 1190.8 1044.7 1193.5 1046.0 1196.3 1047.3 1199.0 1048.6 1201.8 1049.8 1204.5 1051.1 1207.2 1052.4 1210.0 1053.6 1212.7 1054.9 1215.5 1056.1 1218.2 1057.3 1221.0 1058.6 1223.7 1059.8 1226.5 1061.0 1229.2 1062.2 1232.0 1063.4 1234.7 1064.7 1237.5 1065.9 1240.2 1067.0 1243.0 1068.2 1245.8 1069.4 1248.5 1070.6 1251.3 1071.7 1254.0 1072.9 1256.8 1074.1 1259.6 1075.2 1262.3 1076.4 1265.1 1077.5 1267.9 1078.6 1270.7 1079.7 1273.4 1080.8 1276.2 1082.0 1279.0 1083.1 1281.8 1084.1 1284.5 1085.2 1287.3 1086.3 1290.1 1087.4 1292.9 1088.4 1295.7 1089.5 1298.5 1090.5 1301.3 1091.6 1304.1 1092.6 1306.9 1093.6 1309.6 1094.6 1312.4 1095.6 1315.2 1096.6 1318.0 1097.6 1320.8 1098.6 1323.6 1099.6 1326.5 1100.5 1329.3 1101.5 1332.1 1102.4 1334.9 1103.4 1337.7 1104.3 1340.5 1105.2 1343.3 1106.2 1346.1 1107.1 1349.0 1108.0 1351.8 1108.9 1354.6 1109.8 1357.4 1110.7 1360.3 1111.6 1363.1 1112.5 1365.9 1113.4 1368.7 1114.3 1371.6 1115.2 1374.4 1116.1 1377.2 1117.0 1380.1 1117.9 1382.9 1118.8 1385.8 1119.7 1388.6 1120.5 1391.5 1121.4 1394.3 1122.3 1397.2 1123.2 1400.0 1124.1 1402.9 1125.1 1405.7 1126.0 1408.6 1126.9 1411.4 1127.8 1414.3 1128.7 1417.2 1129.6 1420.0 1130.5 1422.9 1131.5 1425.8 1132.4 1428.7 1133.3 1431.5 1134.2 1434.4 1135.1 1437.3 1136.0 1440.2 1136.9 1443.1 1137.8 1445.9 1138.7 1448.8 1139.6 1451.7 1140.5 1454.6 1141.4 1457.5 1142.2 1460.4 1143.1 1463.3 1143.9 1466.2 1144.8 1469.1 1145.6 1472.0 1146.5 1474.9 1147.3 1477.8 1148.1 1480.7 1148.9 1483.6 1149.7 1486.6 1150.5 1489.5 1151.2 1492.4 1152.0 1495.3 1152.7 1498.2 1153.5 1501.2 1154.2 1504.1 1154.9 1507.0 1155.6 1510.0 1156.3 1512.9 1157.0 1515.8 1157.7 1518.8 1158.4 1521.7 1159.1 1524.6 1159.7 1527.6 1160.4 1530.5 1161.0 1533.5 1161.7 1536.4 1162.3 1539.4 1162.9 1542.3 1163.6 1545.3 1164.2 1548.2 1164.8 1551.2 1165.4 1554.1 1165.9 1557.1 1166.5 1560.0 1167.1 1563.0 1167.7 1566.0 1168.2 1568.9 1168.8 1571.9 1169.3 1574.9 1169.9 1577.8 1170.4 1580.8 1170.9 1583.7 1171.4 1586.7 1172.0 1589.7 1172.5 1592.7 1173.0 1595.6 1173.5 1598.6 1174.0 1601.6 1174.5 1604.5 1175.0 1607.5 1175.4 1610.5 1175.9 1613.5 1176.4 1616.4 1176.8 1619.4 1177.3 1622.4 1177.8 1625.4 1178.2 1628.4 1178.7 1631.3 1179.1 1634.3 1179.5 1637.3 1180.0 1640.3 1180.4 1643.2 1180.9 1646.2 1181.3 1649.2 1181.7 1652.2 1182.1 1655.2 1182.5 1658.2 1183.0 1661.1 1183.4 1664.1 1183.8 1667.1 1184.2 1670.1 1184.6 1673.1 1185.0 1676.0 1185.4 1679.0 1185.8 1682.0 1186.2 1685.0 1186.6 1688.0 1187.0 1691.0 1187.4 1693.9 1187.7 1696.9 1188.1 1699.9 1188.5 1702.9 1188.9 1705.9 1189.3 1708.8 1189.7 1711.8 1190.0 1714.8 1190.4 1717.8 1190.8 1720.8 1191.2 1723.7 1191.6 1726.7 1191.9 1729.7 1192.3 1732.7 1192.7 1735.6 1193.1 1738.6 1193.5 1741.6 1193.9 1744.6 1194.2 1747.5 1194.6 1750.5 1195.0 1753.5 1195.4 1756.4 1195.8 1759.4 1196.2 1762.4 1196.5 1765.3 1196.9 1768.3 1197.3 1771.3 1197.7 1774.2 1198.1 1777.2 1198.5 1780.2 1198.9 1783.1 1199.3 1786.1 1199.7 1789.0 1200.1 1792.0 1200.5"/>
<path d="M210.0 1193.8L213.0 1194.1 216.1 1194.3 219.1 1194.5 222.1 1194.7 225.1 1194.9 228.2 1195.0 231.2 1195.1 234.2 1195.2 237.2 1195.2 240.2 1195.2 243.3 1195.2 246.3 1195.2 249.3 1195.2 252.3 1195.1 255.3 1195.0 258.3 1194.9 261.3 1194.7 264.3 1194.5 267.3 1194.4 270.3 1194.1 273.3 1193.9 276.3 1193.7 279.3 1193.4 282.3 1193.1 285.3 1192.8 288.3 1192.5 291.3 1192.1 294.3 1191.8 297.3 1191.4 300.2 1191.0 303.2 1190.6 306.2 1190.2 309.2 1189.8 312.2 1189.3 315.1 1188.9 318.1 1188.4 321.1 1187.9 324.0 1187.4 327.0 1186.9 330.0 1186.4 332.9 1185.9 335.9 1185.3 338.8 1184.8 341.8 1184.2 344.8 1183.7 347.7 1183.1 350.7 1182.5 353.6 1181.9 356.5 1181.4 359.5 1180.8 362.4 1180.2 365.4 1179.6 368.3 1179.0 371.2 1178.3 374.2 1177.7 377.1 1177.1 380.0 1176.5 382.9 1175.8 385.8 1175.2 388.8 1174.5 391.7 1173.9 394.6 1173.2 397.5 1172.5 400.4 1171.9 403.3 1171.2 406.2 1170.5 409.1 1169.8 412.0 1169.1 414.9 1168.4 417.8 1167.7 420.7 1167.0 423.6 1166.2 426.5 1165.5 429.3 1164.8 432.2 1164.0 435.1 1163.3 438.0 1162.5 440.8 1161.8 443.7 1161.0 446.6 1160.2 449.4 1159.5 452.3 1158.7 455.1 1157.9 458.0 1157.1 460.8 1156.3 463.7 1155.5 466.5 1154.7 469.4 1153.9 472.2 1153.0 475.0 1152.2 477.9 1151.4 480.7 1150.5 483.5 1149.6 486.4 1148.8 489.2 1147.9 492.0 1147.0 494.8 1146.1 497.6 1145.2 500.5 1144.2 503.3 1143.3 506.1 1142.3 508.9 1141.4 511.7 1140.4 514.5 1139.4 517.3 1138.3 520.1 1137.3 522.9 1136.3 525.7 1135.2 528.5 1134.1 531.3 1133.0 534.1 1131.9 536.9 1130.7 539.7 1129.6 542.5 1128.4 545.3 1127.2 548.1 1126.0 550.9 1124.8 553.7 1123.6 556.5 1122.4 559.3 1121.2 562.1 1119.9 564.9 1118.7 567.7 1117.5 570.5 1116.2 573.3 1115.0 576.1 1113.7 578.9 1112.5 581.7 1111.2 584.5 1110.0 587.3 1108.7 590.1 1107.5 592.9 1106.3 595.7 1105.0 598.5 1103.8 601.4 1102.6 604.2 1101.4 607.0 1100.2 609.8 1099.0 612.6 1097.8 615.4 1096.6 618.2 1095.4 621.0 1094.3 623.9 1093.1 626.7 1092.0 629.5 1090.9 632.3 1089.7 635.2 1088.6 638.0 1087.5 640.8 1086.4 643.7 1085.4 646.5 1084.3 649.3 1083.3 652.2 1082.2 655.0 1081.2 657.9 1080.2 660.7 1079.2 663.5 1078.2 666.4 1077.2 669.2 1076.2 672.1 1075.3 675.0 1074.3 677.8 1073.4 680.7 1072.5 683.5 1071.6 686.4 1070.7 689.3 1069.9 692.2 1069.0 695.0 1068.2 697.9 1067.4 700.8 1066.6 703.7 1065.8 706.6 1065.0 709.5 1064.3 712.3 1063.6 715.2 1062.8 718.1 1062.1 721.0 1061.5 724.0 1060.8 726.9 1060.2 729.8 1059.5 732.7 1058.9 735.6 1058.3 738.5 1057.8 741.5 1057.2 744.4 1056.7 747.3 1056.2 750.2 1055.7 753.2 1055.2 756.1 1054.8 759.1 1054.3 762.0 1053.9 765.0 1053.5 767.9 1053.2 770.9 1052.8 773.8 1052.5 776.8 1052.2 779.7 1051.9 782.7 1051.6 785.6 1051.4 788.6 1051.2 791.6 1051.0 794.5 1050.8 797.5 1050.6 800.5 1050.5 803.5 1050.4 806.4 1050.3 809.4 1050.3 812.4 1050.2 815.4 1050.2 818.3 1050.2 821.3 1050.2 824.3 1050.3 827.3 1050.4 830.3 1050.5 833.3 1050.6 836.2 1050.7 839.2 1050.9 842.2 1051.1 845.2 1051.3 848.2 1051.5 851.2 1051.8 854.2 1052.0 857.1 1052.3 860.1 1052.6 863.1 1052.9 866.1 1053.2 869.1 1053.5 872.1 1053.9 875.1 1054.2 878.1 1054.6 881.0 1055.0 884.0 1055.3 887.0 1055.7 890.0 1056.1 893.0 1056.5 896.0 1057.0 898.9 1057.4 901.9 1057.8 904.9 1058.3 907.9 1058.7 910.9 1059.1 913.8 1059.6 916.8 1060.0 919.8 1060.5 922.8 1060.9 925.7 1061.4 928.7 1061.8 931.7 1062.3 934.6 1062.7 937.6 1063.2 940.6 1063.7 943.5 1064.1 946.5 1064.6 949.5 1065.1 952.4 1065.6 955.4 1066.0 958.3 1066.5 961.3 1067.0 964.3 1067.5 967.2 1068.0 970.2 1068.5 973.1 1069.1 976.1 1069.6 979.0 1070.1 982.0 1070.6 984.9 1071.2 987.9 1071.7 990.8 1072.3 993.8 1072.9 996.7 1073.4 999.6 1074.0 1002.6 1074.6 1005.5 1075.2 1008.5 1075.8 1011.4 1076.5 1014.4 1077.1 1017.3 1077.7 1020.2 1078.4 1023.2 1079.0 1026.1 1079.7 1029.0 1080.3 1032.0 1081.0 1034.9 1081.7 1037.8 1082.4 1040.8 1083.1 1043.7 1083.8 1046.6 1084.4 1049.6 1085.2 1052.5 1085.9 1055.4 1086.6 1058.4 1087.3 1061.3 1088.0 1064.2 1088.7 1067.1 1089.5 1070.1 1090.2 1073.0 1090.9 1075.9 1091.6 1078.8 1092.4 1081.8 1093.1 1084.7 1093.9 1087.6 1094.6 1090.5 1095.3 1093.5 1096.1 1096.4 1096.8 1099.3 1097.6 1102.2 1098.3 1105.2 1099.0 1108.1 1099.8 1111.0 1100.5 1113.9 1101.3 1116.8 1102.0 1119.8 1102.8 1122.7 1103.5 1125.6 1104.3 1128.5 1105.0 1131.4 1105.7 1134.4 1106.5 1137.3 1107.2 1140.2 1108.0 1143.1 1108.7 1146.0 1109.5 1149.0 1110.2 1151.9 1110.9 1154.8 1111.7 1157.7 1112.4 1160.6 1113.2 1163.6 1113.9 1166.5 1114.6 1169.4 1115.4 1172.3 1116.1 1175.2 1116.8 1178.2 1117.6 1181.1 1118.3 1184.0 1119.0 1186.9 1119.7 1189.8 1120.5 1192.8 1121.2 1195.7 1121.9 1198.6 1122.6 1201.5 1123.3 1204.5 1124.1 1207.4 1124.8 1210.3 1125.5 1213.2 1126.2 1216.1 1126.9 1219.1 1127.6 1222.0 1128.3 1224.9 1129.0 1227.8 1129.7 1230.8 1130.3 1233.7 1131.0 1236.6 1131.7 1239.5 1132.4 1242.5 1133.1 1245.4 1133.7 1248.3 1134.4 1251.3 1135.1 1254.2 1135.7 1257.1 1136.4 1260.1 1137.0 1263.0 1137.7 1265.9 1138.3 1268.8 1139.0 1271.8 1139.6 1274.7 1140.2 1277.6 1140.9 1280.6 1141.5 1283.5 1142.1 1286.4 1142.7 1289.4 1143.3 1292.3 1143.9 1295.3 1144.6 1298.2 1145.2 1301.1 1145.8 1304.1 1146.4 1307.0 1147.0 1310.0 1147.5 1312.9 1148.1 1315.8 1148.7 1318.8 1149.3 1321.7 1149.9 1324.7 1150.4 1327.6 1151.0 1330.5 1151.6 1333.5 1152.1 1336.4 1152.7 1339.4 1153.3 1342.3 1153.8 1345.3 1154.4 1348.2 1154.9 1351.2 1155.5 1354.1 1156.0 1357.1 1156.5 1360.0 1157.1 1363.0 1157.6 1365.9 1158.1 1368.9 1158.7 1371.8 1159.2 1374.8 1159.7 1377.7 1160.2 1380.7 1160.8 1383.6 1161.3 1386.6 1161.8 1389.5 1162.3 1392.5 1162.8 1395.4 1163.3 1398.4 1163.8 1401.4 1164.3 1404.3 1164.8 1407.3 1165.3 1410.2 1165.8 1413.2 1166.3 1416.1 1166.8 1419.1 1167.3 1422.1 1167.7 1425.0 1168.2 1428.0 1168.7 1430.9 1169.2 1433.9 1169.7 1436.9 1170.1 1439.8 1170.6 1442.8 1171.1 1445.7 1171.5 1448.7 1172.0 1451.7 1172.5 1454.6 1172.9 1457.6 1173.4 1460.6 1173.8 1463.5 1174.3 1466.5 1174.7 1469.5 1175.2 1472.4 1175.6 1475.4 1176.1 1478.4 1176.5 1481.3 1177.0 1484.3 1177.4 1487.3 1177.9 1490.2 1178.3 1493.2 1178.7 1496.2 1179.2 1499.2 1179.6 1502.1 1180.0 1505.1 1180.5 1508.1 1180.9 1511.0 1181.3 1514.0 1181.7 1517.0 1182.2 1520.0 1182.6 1522.9 1183.0 1525.9 1183.4 1528.9 1183.9 1531.9 1184.3 1534.8 1184.7 1537.8 1185.1 1540.8 1185.5 1543.8 1185.9 1546.7 1186.4 1549.7 1186.8 1552.7 1187.2 1555.7 1187.6 1558.7 1188.0 1561.6 1188.4 1564.6 1188.8 1567.6 1189.2 1570.6 1189.6 1573.6 1190.0 1576.5 1190.4 1579.5 1190.8 1582.5 1191.2 1585.5 1191.6 1588.5 1192.0 1591.4 1192.4 1594.4 1192.8 1597.4 1193.2 1600.4 1193.6 1603.4 1194.0 1606.4 1194.4 1609.3 1194.8 1612.3 1195.2 1615.3 1195.5 1618.3 1195.9 1621.3 1196.3 1624.3 1196.7 1627.3 1197.0 1630.3 1197.4 1633.2 1197.8 1636.2 1198.1 1639.2 1198.5 1642.2 1198.8 1645.2 1199.2 1648.2 1199.5 1651.2 1199.9 1654.2 1200.2 1657.2 1200.5 1660.1 1200.9 1663.1 1201.2 1666.1 1201.5 1669.1 1201.8 1672.1 1202.1 1675.1 1202.4 1678.1 1202.7 1681.1 1203.0 1684.1 1203.3 1687.1 1203.6 1690.1 1203.9 1693.1 1204.1 1696.1 1204.4 1699.0 1204.6 1702.0 1204.9 1705.0 1205.1 1708.0 1205.4 1711.0 1205.6 1714.0 1205.8 1717.0 1206.1 1720.0 1206.3 1723.0 1206.5 1726.0 1206.7 1729.0 1206.9 1732.0 1207.1 1735.0 1207.2 1738.0 1207.4 1741.0 1207.6 1744.0 1207.7 1747.0 1207.9 1750.0 1208.0 1753.0 1208.1 1756.0 1208.2 1759.0 1208.4 1762.0 1208.5 1765.0 1208.6 1768.0 1208.6 1771.0 1208.7 1774.0 1208.8 1777.0 1208.8 1780.0 1208.9 1783.0 1208.9 1786.0 1209.0 1789.0 1209.0 1792.0 1209.0"/>
<path d="M210.0 1192.3L213.0 1192.6 216.0 1192.9 218.9 1193.2 221.9 1193.4 224.9 1193.6 227.9 1193.8 230.9 1194.0 233.8 1194.1 236.8 1194.2 239.8 1194.2 242.8 1194.3 245.8 1194.3 248.8 1194.3 251.7 1194.2 254.7 1194.2 257.7 1194.1 260.7 1194.0 263.7 1193.9 266.6 1193.7 269.6 1193.5 272.6 1193.4 275.6 1193.1 278.6 1192.9 281.6 1192.7 284.5 1192.4 287.5 1192.1 290.5 1191.8 293.5 1191.5 296.5 1191.2 299.5 1190.8 302.4 1190.5 305.4 1190.1 308.4 1189.7 311.4 1189.3 314.4 1188.9 317.4 1188.5 320.3 1188.1 323.3 1187.6 326.3 1187.2 329.3 1186.7 332.3 1186.3 335.3 1185.8 338.3 1185.3 341.2 1184.8 344.2 1184.3 347.2 1183.8 350.2 1183.3 353.2 1182.8 356.2 1182.3 359.2 1181.8 362.1 1181.3 365.1 1180.8 368.1 1180.3 371.1 1179.8 374.1 1179.2 377.1 1178.7 380.1 1178.2 383.0 1177.7 386.0 1177.2 389.0 1176.7 392.0 1176.1 395.0 1175.6 398.0 1175.1 401.0 1174.6 404.0 1174.1 406.9 1173.6 409.9 1173.1 412.9 1172.6 415.9 1172.2 418.9 1171.7 421.9 1171.2 424.9 1170.8 427.9 1170.3 430.8 1169.9 433.8 1169.4 436.8 1169.0 439.8 1168.5 442.8 1168.1 445.8 1167.7 448.8 1167.3 451.8 1166.9 454.8 1166.5 457.7 1166.1 460.7 1165.7 463.7 1165.4 466.7 1165.0 469.7 1164.6 472.7 1164.3 475.7 1163.9 478.7 1163.6 481.7 1163.3 484.7 1162.9 487.6 1162.6 490.6 1162.3 493.6 1162.0 496.6 1161.7 499.6 1161.4 502.6 1161.1 505.6 1160.8 508.6 1160.6 511.6 1160.3 514.6 1160.0 517.6 1159.8 520.5 1159.5 523.5 1159.3 526.5 1159.0 529.5 1158.8 532.5 1158.6 535.5 1158.3 538.5 1158.1 541.5 1157.9 544.5 1157.7 547.5 1157.5 550.5 1157.3 553.5 1157.1 556.4 1156.9 559.4 1156.7 562.4 1156.6 565.4 1156.4 568.4 1156.2 571.4 1156.1 574.4 1155.9 577.4 1155.8 580.4 1155.6 583.4 1155.5 586.4 1155.4 589.4 1155.2 592.4 1155.1 595.4 1155.0 598.4 1154.9 601.3 1154.8 604.3 1154.6 607.3 1154.5 610.3 1154.4 613.3 1154.4 616.3 1154.3 619.3 1154.2 622.3 1154.1 625.3 1154.0 628.3 1154.0 631.3 1153.9 634.3 1153.8 637.3 1153.8 640.3 1153.7 643.3 1153.7 646.3 1153.6 649.3 1153.6 652.2 1153.6 655.2 1153.5 658.2 1153.5 661.2 1153.5 664.2 1153.4 667.2 1153.4 670.2 1153.4 673.2 1153.4 676.2 1153.4 679.2 1153.4 682.2 1153.4 685.2 1153.4 688.2 1153.4 691.2 1153.4 694.2 1153.4 697.2 1153.4 700.2 1153.5 703.2 1153.5 706.2 1153.5 709.2 1153.5 712.2 1153.6 715.2 1153.6 718.2 1153.6 721.1 1153.7 724.1 1153.7 727.1 1153.7 730.1 1153.8 733.1 1153.8 736.1 1153.9 739.1 1153.9 742.1 1154.0 745.1 1154.0 748.1 1154.1 751.1 1154.2 754.1 1154.2 757.1 1154.3 760.1 1154.3 763.1 1154.4 766.1 1154.5 769.1 1154.6 772.1 1154.6 775.1 1154.7 778.1 1154.8 781.1 1154.9 784.1 1154.9 787.1 1155.0 790.1 1155.1 793.1 1155.2 796.1 1155.3 799.1 1155.3 802.1 1155.4 805.1 1155.5 808.1 1155.6 811.1 1155.7 814.1 1155.8 817.1 1155.9 820.1 1156.0 823.1 1156.1 826.1 1156.2 829.1 1156.3 832.1 1156.3 835.1 1156.4 838.1 1156.5 841.1 1156.7 844.1 1156.8 847.1 1156.9 850.1 1157.0 853.1 1157.1 856.1 1157.2 859.1 1157.3 862.0 1157.4 865.0 1157.5 868.0 1157.6 871.0 1157.7 874.0 1157.8 877.0 1158.0 880.0 1158.1 883.0 1158.2 886.0 1158.3 889.0 1158.4 892.0 1158.5 895.0 1158.7 898.0 1158.8 901.0 1158.9 904.0 1159.0 907.0 1159.2 910.0 1159.3 913.0 1159.4 916.0 1159.5 919.0 1159.7 922.0 1159.8 925.0 1159.9 928.0 1160.1 931.0 1160.2 934.0 1160.3 937.0 1160.5 940.0 1160.6 943.0 1160.8 946.0 1160.9 949.0 1161.0 952.0 1161.2 955.0 1161.3 958.0 1161.5 961.0 1161.6 964.0 1161.8 967.0 1161.9 970.0 1162.1 973.0 1162.2 976.0 1162.4 979.0 1162.5 982.0 1162.7 985.0 1162.8 988.0 1163.0 991.0 1163.1 994.0 1163.3 997.0 1163.4 1000.0 1163.6 1003.0 1163.8 1006.0 1163.9 1009.0 1164.1 1012.1 1164.2 1015.1 1164.4 1018.1 1164.6 1021.1 1164.7 1024.1 1164.9 1027.1 1165.1 1030.1 1165.2 1033.1 1165.4 1036.1 1165.6 1039.1 1165.7 1042.1 1165.9 1045.1 1166.1 1048.1 1166.3 1051.1 1166.4 1054.1 1166.6 1057.1 1166.8 1060.1 1167.0 1063.1 1167.1 1066.1 1167.3 1069.1 1167.5 1072.1 1167.7 1075.1 1167.9 1078.1 1168.0 1081.1 1168.2 1084.1 1168.4 1087.1 1168.6 1090.1 1168.8 1093.1 1169.0 1096.1 1169.2 1099.1 1169.3 1102.1 1169.5 1105.1 1169.7 1108.1 1169.9 1111.1 1170.1 1114.1 1170.3 1117.1 1170.5 1120.1 1170.7 1123.1 1170.9 1126.1 1171.1 1129.1 1171.3 1132.1 1171.5 1135.1 1171.7 1138.1 1171.9 1141.1 1172.1 1144.1 1172.3 1147.1 1172.5 1150.1 1172.7 1153.1 1172.9 1156.1 1173.1 1159.1 1173.3 1162.1 1173.5 1165.1 1173.7 1168.1 1173.9 1171.1 1174.1 1174.1 1174.3 1177.1 1174.6 1180.1 1174.8 1183.1 1175.0 1186.1 1175.2 1189.1 1175.4 1192.1 1175.6 1195.1 1175.8 1198.1 1176.1 1201.1 1176.3 1204.1 1176.5 1207.1 1176.7 1210.1 1176.9 1213.1 1177.1 1216.1 1177.4 1219.1 1177.6 1222.1 1177.8 1225.2 1178.0 1228.2 1178.3 1231.2 1178.5 1234.2 1178.7 1237.2 1178.9 1240.2 1179.2 1243.2 1179.4 1246.2 1179.6 1249.2 1179.8 1252.2 1180.1 1255.2 1180.3 1258.2 1180.5 1261.2 1180.8 1264.2 1181.0 1267.2 1181.2 1270.2 1181.5 1273.2 1181.7 1276.2 1181.9 1279.2 1182.2 1282.2 1182.4 1285.2 1182.6 1288.2 1182.9 1291.2 1183.1 1294.2 1183.3 1297.2 1183.6 1300.2 1183.8 1303.2 1184.1 1306.2 1184.3 1309.2 1184.5 1312.2 1184.8 1315.2 1185.0 1318.2 1185.3 1321.2 1185.5 1324.2 1185.7 1327.2 1186.0 1330.2 1186.2 1333.2 1186.5 1336.2 1186.7 1339.2 1186.9 1342.2 1187.2 1345.2 1187.4 1348.2 1187.7 1351.2 1187.9 1354.2 1188.2 1357.2 1188.4 1360.2 1188.6 1363.2 1188.9 1366.2 1189.1 1369.2 1189.4 1372.2 1189.6 1375.2 1189.8 1378.2 1190.1 1381.2 1190.3 1384.2 1190.6 1387.2 1190.8 1390.2 1191.0 1393.2 1191.3 1396.2 1191.5 1399.2 1191.8 1402.2 1192.0 1405.2 1192.2 1408.2 1192.5 1411.2 1192.7 1414.2 1193.0 1417.2 1193.2 1420.2 1193.4 1423.2 1193.7 1426.2 1193.9 1429.2 1194.1 1432.2 1194.4 1435.2 1194.6 1438.2 1194.8 1441.2 1195.1 1444.2 1195.3 1447.2 1195.5 1450.2 1195.8 1453.2 1196.0 1456.2 1196.2 1459.2 1196.4 1462.2 1196.7 1465.2 1196.9 1468.2 1197.1 1471.2 1197.4 1474.2 1197.6 1477.2 1197.8 1480.2 1198.0 1483.2 1198.2 1486.2 1198.5 1489.2 1198.7 1492.2 1198.9 1495.2 1199.1 1498.2 1199.3 1501.2 1199.6 1504.2 1199.8 1507.2 1200.0 1510.2 1200.2 1513.2 1200.4 1516.2 1200.6 1519.2 1200.8 1522.2 1201.0 1525.2 1201.2 1528.2 1201.5 1531.2 1201.7 1534.2 1201.9 1537.2 1202.1 1540.2 1202.3 1543.2 1202.5 1546.2 1202.7 1549.2 1202.9 1552.2 1203.1 1555.2 1203.2 1558.2 1203.4 1561.2 1203.6 1564.2 1203.8 1567.2 1204.0 1570.2 1204.2 1573.2 1204.4 1576.2 1204.6 1579.2 1204.7 1582.2 1204.9 1585.2 1205.1 1588.2 1205.3 1591.2 1205.4 1594.2 1205.6 1597.2 1205.8 1600.2 1206.0 1603.2 1206.1 1606.2 1206.3 1609.2 1206.5 1612.2 1206.6 1615.2 1206.8 1618.2 1206.9 1621.2 1207.1 1624.2 1207.3 1627.2 1207.4 1630.2 1207.6 1633.2 1207.7 1636.2 1207.9 1639.2 1208.0 1642.2 1208.1 1645.2 1208.3 1648.2 1208.4 1651.2 1208.6 1654.2 1208.7 1657.2 1208.8 1660.2 1209.0 1663.2 1209.1 1666.2 1209.2 1669.2 1209.3 1672.2 1209.5 1675.2 1209.6 1678.2 1209.7 1681.2 1209.8 1684.2 1209.9 1687.1 1210.0 1690.1 1210.1 1693.1 1210.2 1696.1 1210.3 1699.1 1210.4 1702.1 1210.5 1705.1 1210.6 1708.1 1210.7 1711.1 1210.8 1714.1 1210.9 1717.1 1211.0 1720.1 1211.1 1723.1 1211.1 1726.1 1211.2 1729.1 1211.3 1732.1 1211.4 1735.1 1211.4 1738.1 1211.5 1741.1 1211.6 1744.1 1211.6 1747.1 1211.7 1750.1 1211.7 1753.1 1211.8 1756.1 1211.8 1759.1 1211.9 1762.0 1211.9 1765.0 1212.0 1768.0 1212.0 1771.0 1212.0 1774.0 1212.1 1777.0 1212.1 1780.0 1212.1 1783.0 1212.2 1786.0 1212.2 1789.0 1212.2 1792.0 1212.2"/>
</g>
<g stroke="#000" stroke-width="6" stroke-linecap="butt">
<line x1="184" y1="53" x2="1798" y2="53" stroke-width="5"/>
<line x1="184" y1="1232" x2="1798" y2="1232" stroke-width="5.5"/>
<line x1="210" y1="50.5" x2="210" y2="1257"/>
<line x1="1795" y1="50.5" x2="1795" y2="1257"/>
<line x1="196" y1="642.5" x2="210" y2="642.5"/>
<line x1="408.1" y1="1232" x2="408.1" y2="1246"/>
<line x1="606.2" y1="1232" x2="606.2" y2="1256"/>
<line x1="804.4" y1="1232" x2="804.4" y2="1246"/>
<line x1="1002.5" y1="1232" x2="1002.5" y2="1256"/>
<line x1="1200.6" y1="1232" x2="1200.6" y2="1246"/>
<line x1="1398.8" y1="1232" x2="1398.8" y2="1256"/>
<line x1="1596.9" y1="1232" x2="1596.9" y2="1246"/>
</g>
<text transform="translate(210.0 1324.0) scale(0.955 1)" text-anchor="middle" font-size="74">450</text>
<text transform="translate(606.2 1324.0) scale(0.955 1)" text-anchor="middle" font-size="74">500</text>
<text transform="translate(1002.5 1324.0) scale(0.955 1)" text-anchor="middle" font-size="74">550</text>
<text transform="translate(1398.8 1324.0) scale(0.955 1)" text-anchor="middle" font-size="74">600</text>
<text transform="translate(1795.0 1324.0) scale(0.955 1)" text-anchor="middle" font-size="74">650</text>
<text transform="translate(148.5 130) scale(0.84 1)" text-anchor="middle" font-size="74">1</text>
<text transform="translate(149.0 1211.5) scale(0.955 1)" text-anchor="middle" font-size="74">0</text>
<text transform="translate(1004.5 1417.0) scale(0.955 1)" text-anchor="middle" font-size="79">Wavelength (nm)</text>
<text transform="translate(88.3 621.4) scale(0.955 1) rotate(-90)" font-size="79" text-anchor="middle">I (a.u.)</text>
<!-- inset -->
<g fill="none" stroke-linecap="butt">
<line x1="1249" y1="89.5" x2="1758.5" y2="89.5" stroke="#333" stroke-width="2"/>
<line x1="1757.5" y1="89.5" x2="1757.5" y2="474" stroke="#333" stroke-width="2"/>
<line x1="1247" y1="474.3" x2="1758.5" y2="474.3" stroke="#8e8e8e" stroke-width="3.5"/>
<line x1="1255.2" y1="89.5" x2="1255.2" y2="484" stroke="#222" stroke-width="2.2"/>
<line x1="1250.5" y1="282.5" x2="1255" y2="282.5" stroke="#555" stroke-width="2"/>
<g stroke="#222" stroke-width="2.2">
<line x1="1348.1" y1="474" x2="1348.1" y2="479"/>
<line x1="1441.2" y1="474" x2="1441.2" y2="483"/>
<line x1="1534.3" y1="474" x2="1534.3" y2="479"/>
<line x1="1627.4" y1="474" x2="1627.4" y2="483"/>
<line x1="1720.5" y1="474" x2="1720.5" y2="479"/>
</g>
</g>
<path d="M1255.0 131.0L1264.5 152.3 1273.3 190.0 1282.7 208.3 1292.2 247.4 1301.6 281.0 1311.0 305.3 1329.0 341.6 1348.0 376.1 1366.0 404.0 1403.0 427.7 1458.0 440.4 1507.8 445.4 1580.0 450.0 1626.4 450.8 1716.0 453.4" fill="none" stroke="#111" stroke-width="1.7" stroke-linejoin="round"/>
<clipPath id="ic"><rect x="1255" y="85" width="510" height="400"/></clipPath>
<g fill="#000" clip-path="url(#ic)">
<circle cx="1256.0" cy="137.0" r="6"/>
<circle cx="1264.5" cy="152.3" r="6"/>
<circle cx="1273.3" cy="190.1" r="6"/>
<circle cx="1282.7" cy="208.3" r="6"/>
<circle cx="1292.2" cy="247.4" r="6"/>
<circle cx="1301.6" cy="281.0" r="6"/>
<circle cx="1311.0" cy="305.3" r="6"/>
<circle cx="1329.1" cy="341.6" r="6"/>
<circle cx="1347.9" cy="376.1" r="6"/>
<circle cx="1366.1" cy="406.4" r="6"/>
<circle cx="1403.1" cy="419.2" r="6"/>
<circle cx="1457.8" cy="451.7" r="6"/>
<circle cx="1579.8" cy="450.0" r="6"/>
<circle cx="1714.6" cy="449.7" r="6"/>
</g>
<text transform="translate(1255.0 508.3) scale(0.955 1)" text-anchor="middle" font-size="28">0.00000</text>
<text transform="translate(1441.2 508.3) scale(0.955 1)" text-anchor="middle" font-size="28">0.00001</text>
<text transform="translate(1627.4 508.3) scale(0.955 1)" text-anchor="middle" font-size="28">0.00002</text>
<text x="1527.4" y="548.5" text-anchor="middle" font-size="28">[ATP] / M</text>
<text transform="translate(1215.7 281.6) scale(0.955 1) rotate(-90)" font-size="28" text-anchor="middle">I 530nm</text>
</svg>
</body></html>
